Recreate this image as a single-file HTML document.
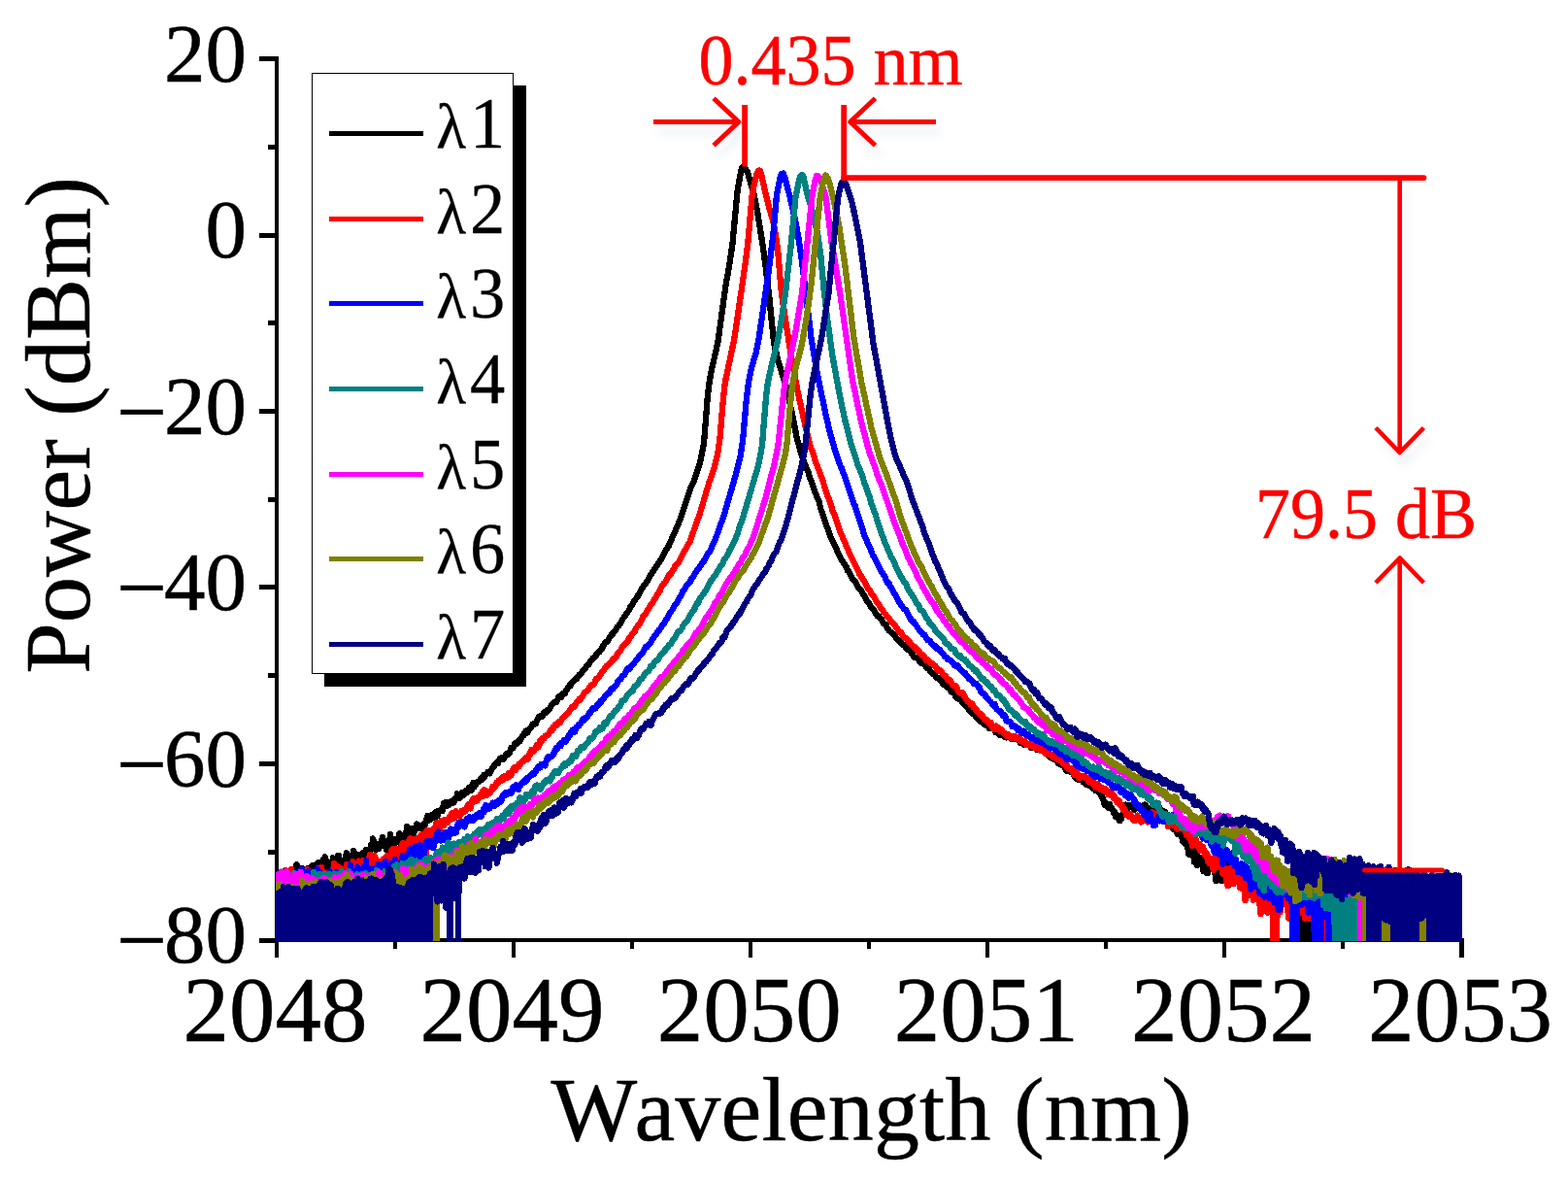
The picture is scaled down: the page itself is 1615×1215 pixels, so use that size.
<!DOCTYPE html>
<html lang="en"><head><meta charset="utf-8"><title>Optical spectra</title>
<style>
html,body{margin:0;padding:0;background:#fff;}
body{width:1615px;height:1215px;overflow:hidden;}
svg{display:block;}
text{font-family:"Liberation Serif",serif;stroke-width:0.5px;stroke-linejoin:round;font-kerning:none;}
.ax{fill:#000;}
.cv{fill:none;stroke-width:6.3;stroke-linejoin:round;stroke-linecap:butt;}
.an{fill:none;stroke:#f00;stroke-linecap:butt;stroke-linejoin:miter;stroke-miterlimit:10;}
.rt{fill:#f00;stroke:#f00;font-size:72px;}
.lg{font-size:72px;fill:#000;stroke:#000;stroke-width:0.3px;}
</style></head>
<body>
<svg width="1615" height="1215" viewBox="0 0 1615 1215">
<defs><clipPath id="plot"><rect x="284" y="50" width="1222" height="919"/></clipPath><filter id="sh" x="-30%" y="-30%" width="170%" height="170%" color-interpolation-filters="sRGB"><feGaussianBlur in="SourceAlpha" stdDeviation="4.5"/><feOffset dx="5" dy="11" result="b"/><feFlood flood-color="#4a6fa5" flood-opacity="0.11"/><feComposite in2="b" operator="in"/></filter></defs>
<rect width="1615" height="1215" fill="#fff"/>
<g class="ax">
<rect x="283" y="58" width="4" height="912"/>
<rect x="283" y="966" width="1225" height="4"/>
<rect x="267" y="58" width="18" height="5"/><rect x="276" y="149" width="9" height="5"/><rect x="267" y="240" width="18" height="5"/><rect x="276" y="330" width="9" height="5"/><rect x="267" y="421" width="18" height="5"/><rect x="276" y="512" width="9" height="5"/><rect x="267" y="602" width="18" height="5"/><rect x="276" y="693" width="9" height="5"/><rect x="267" y="784" width="18" height="5"/><rect x="276" y="875" width="9" height="5"/><rect x="267" y="966" width="18" height="5"/>
<rect x="283" y="966" width="4" height="20"/><rect x="405" y="966" width="4" height="11"/><rect x="527" y="966" width="4" height="20"/><rect x="649" y="966" width="4" height="11"/><rect x="771" y="966" width="4" height="20"/><rect x="893" y="966" width="4" height="11"/><rect x="1015" y="966" width="4" height="20"/><rect x="1137" y="966" width="4" height="11"/><rect x="1259" y="966" width="4" height="20"/><rect x="1381" y="966" width="4" height="11"/><rect x="1503" y="966" width="5" height="20"/>
</g>
<g font-size="85" text-anchor="end" fill="#000" stroke="#000">
<text x="254" y="83.5">20</text><text x="254" y="265">0</text><text><tspan x="171.8" y="454.7" font-size="92.4">−</tspan><tspan x="254" y="446.5">20</tspan></text><text><tspan x="171.8" y="636.2" font-size="92.4">−</tspan><tspan x="254" y="628">40</tspan></text><text><tspan x="171.8" y="817.7" font-size="92.4">−</tspan><tspan x="254" y="809.5">60</tspan></text><text><tspan x="171.8" y="999.2" font-size="92.4">−</tspan><tspan x="254" y="991">80</tspan></text>
</g>
<g font-size="95" text-anchor="middle" fill="#000" stroke="#000">
<text x="283.5" y="1072">2048</text><text x="527.6" y="1072">2049</text><text x="771.7" y="1072">2050</text><text x="1015.8" y="1072">2051</text><text x="1259.9" y="1072">2052</text><text x="1504" y="1072">2053</text>
</g>
<text x="567.5" y="1173.8" dx="0 -3" font-size="94" fill="#000" stroke="#000" letter-spacing="0.2">Wavelength (nm)</text>
<text transform="translate(92,693.8) rotate(-90)" font-size="94.5" fill="#000" stroke="#000">Power (dBm)</text>
<g clip-path="url(#plot)" shape-rendering="crispEdges">
<path class="cv" stroke="#000000" d="M285 909.4l1-11.3l1 17.4l0.5-5.2l1 5.9l0.5-5.4l0.5 74.2l0.5-70.8l0.5-15.5l1 3.6l0.5 4.5l0.5-5.7l0.5 7.4l0.5-11.6l0.5 8.6l0.5-1.8l0.5 10.7l0.5 0.4l1-14.2l0.5 8l1.5-12l0.5 4.7l0.5-5.8l0.5 9.1l0.5-5.5l1 4.1l0.5-5.2l0.5 12.5l0.5-10.3l0.5 2.1l1-5.6l0.5 7.4l0.5-13.8l1 14.5l0.5-5.1l0.5 1.9l0.5 0.1l0.5 9.6l0.5-8.1l1.5-9.3l1 4.5l1 0.9l0.5 3l1-7l0.5 0.4l0.5 6.7l1-3.9l0.5-0.4l0.5 1.5l0.5-5.7l0.5 4.5l0.5-3.1l0.5 6.7l0.5 1l0.5-10.2l0.5 2.7l1.5-4.5l0.5 6.7l1-5.5l1 5.3l1-0.7l0.5 88.2l0.5-86.9l1-9.8l0.5 0.2l1 2.3l0.5 7.5l1-10.1l0.5 7.7l0.5-1.6l0.5 1.8l0.5-3.6l0.5 2.4l0.5-10.9l0.5-0.3l0.5 8.3l0.5-9.7l0.5 3.6l0.5-0.2l1.5 7.4l0.5 6.2l0.5-7.8l0.5 7.1l0.5-2.7l0.5 2.5l1.5-11.2l1 4l0.5-7.8l0.5 10.6l0.5 0.6l1-6.8l0.5 1.4l0.5 95.8l0.5-92.5l0.5-7.9l0.5 2.9l0.5-6.1l0.5 4.6l0.5-5.3l1 7.1l0.5-2.8l0.5 3.2l0.5-0.6l0.5 8.1l0.5-7.2l0.5 8.1l0.5-1.7l0.5-7.8l0.5 97.9l0.5-96.7l1-7.2l1-2.8l1 10.6l1-2.5l1 10.1l1.5-12l0.5 4.7l0.5-7.6l0.5-1.8l0.5 105.2l0.5-109l0.5 0.4l0.5 9.3l0.5 1.9l0.5-0.8l0.5 1.3l0.5 4.2l0.5 0.5l0.5-6l0.5 3.2l0.5-10l0.5 4.7l0.5-0.3l0.5 6l0.5-10.1l1 0.8l1 3.1l0.5-5.8l0.5 4.4l1 2.9l0.5-4.4l1.5-6.3l0.5 1.8l0.5-1.6l0.5 3.9l0.5 0.6l0.5-0.4l0.5-3.6l0.5 2l1-4.6l0.5 0.4l0.5-4.5l0.5-0.3l0.5 5l0.5-10.2l0.5 4.8l0.5-2.3l0.5 0.5l0.5 7.5l0.5-2.8l0.5 4.2l0.5-3.5l0.5 2.5l1-4.3l1 4l0.5-3.9l0.5-0.9l0.5 0.7l1-2.5l0.5-3l0.5 6.2l0.5-8.8l1 5.5l1-1.4l2 9.1l0.5-3l0.5 2.8l2-7.3l1-8.5l0.5 3.1l0.5 122.8l0.5-118.2l0.5-0.7l0.5 1.6l0.5-2.5l0.5-0.3l1 4.3l0.5-2.9l0.5 1.8l0.5-4.3l0.5 2.3l0.5-2.8l0.5 3.6l1.5-4l0.5-4.7l0.5 3.9l0.5-0.2l0.5 3.2l0.5-4.7l0.5 124.6l0.5-123.3l2 7.4l0.5-7l0.5 1.5l0.5-1.2l1-11.5l1 4.7l1-0.8l1 4.7l1-6.7l1.5 7.5l1-3.7l0.5 1.7l0.5-3.5l0.5 1.8l1.5-5.5l0.5 1.2l0.5-3.9l1 2.6l0.5 0.3l0.5-1l0.5 2.6l0.5-1.7l1-0.6l1.5 2.6l0.5-0.5l1-4.1l0.5 2.7l2.5-8.4l0.5 2.7l0.5-5.7l0.5 2.8l0.5-1.8l1 3.6l0.5-2.1l0.5 0.9l1-3.9l1.5 2.9l1-4.2l0.5 4.1l0.5-3.3l0.5 1.4l0.5-4.6l1 5l0.5-0.4l1-5.3l0.5 0.8l0.5-1.2l0.5 0.6l1-0.8l0.5 0.8l0.5-1.7l0.5 1.8l1.5-8.3l0.5 1.1l0.5-1.5l0.5 0.2l0.5-0.8l1.5 3.8l0.5-1.8l0.5 1.1l0.5-2.6l0.5 0.1l0.5 1.9l1.5-2.1l0.5 0.8l0.5-2.6l0.5 2.4l1-2.2l0.5 1.6l1-4.2l0.5 1.2l0.5-2.2l0.5-0.3l0.5 0.6l0.5-4.3l0.5 2.3l0.5-1.7l0.5 0.2l1 3.7l2.5-5.5l1-0.1l0.5 2.6l1.5-4l1-0.7l0.5 2.3l0.5-0.2l1-3.4l0.5 0.7l0.5-2.6l0.5 2.1l0.5-0.4l0.5 0.9l0.5-0.9l0.5 1.5l1-6.3l0.5-0.2l0.5-1.4l1 4.3l0.5-1.5l0.5-0.6l0.5 0.2l1-3.2l2-0.2l1.5-2.2l0.5 0.8l0.5-2.2l0.5 0.8l0.5-0.1l0.5-2.4l0.5 0.1l0.5-0.6l0.5-1.5l0.5 2.7l2-4.2l0.5 0l0.5-0.9l0.5 1l1-1l1 1l0.5-3l1.5-1l1-2.2l0.5 0.4l1-1.5l0.5-1.8l0.5 0.3l1-2.1l0.5 0.5l0.5-0.9l0.5-0.1l0.5 1l0.5-2.3l1-0.7l0.5-1.7l0.5 0.3l0.5-1.1l0.5 0.6l0.5-0.2l0.5 0.8l0.5-0.3l0.5 0.4l2-4.1l1.5-2l1-0.3l0.5 1.6l1-1.3l2-5.8l0.5 1.5l1.5-1.2l1-1.8l0.5-2.4l0.5 0.3l0.5-1.2l1 0.5l1-0.2l1.5-3.3l1.5 0.6l2-4.6l1-0.4l0.5-1.9l0.5 0l0.5-1l0.5 0.4l0.5-2.7l0.5 1.3l0.5-0.2l1 0.7l1.5-3.2l0.5 0l1-1.7l0.5 0l1.5-3.8l0.5-0.3l0.5 0.9l0.5-0.1l0.5-1.1l0.5 0.4l1-0.6l1.5-4.2l1.5-2.5l0.5 0.9l0.5-1.3l0.5 0.5l1.5-1.4l0.5 1l1-2.7l0.5 0.2l0.5-2l0.5 0.9l1-0.1l0.5-1.5l0.5 0.3l0.5-1.7l1-0.6l0.5 0.4l1.5-1.8l2-3.8l1-0.5l0.5-1.5l2-0.7l1 0.3l2.5-5.6l1 0.5l0.5-0.4l1 0.4l1-3.4l1.5 0l1-1.3l0.5 1.1l0.5-2.2l2.5-4l1-0.7l0.5-1.5l0.5 0.8l0.5-2.1l0.5 0.5l1-2.5l1-1l0.5 0.2l2-2.8l0.5 0.2l0.5-0.7l0.5 0.7l2.5-4.3l2-1.1l1.5-2.8l2.5-1.9l2.5-4.3l1.5-0.3l2-4.5l0.5 0l2-2.6l2-0.9l2-3.9l1.5-1.3l0.5 0.3l2-2.1l3.5-6.9l1.5-1.7l0.5 0.5l0.5-1l1-0.5l1.5-3.2l3-4.1l0.5 0.2l0.5-1.4l2.5-2.6l2-3.4l1.5-1.3l5-8.4l5-6.8l2-4.5l1.5-1.2l2.5-5l2.5-2.7l4-7.8l2.5-3.2l1-2.3l1.5-1.2l1.5-3l1-0.7l3.5-6.8l11-16l2-5l4.5-6.8l12.5-28.7l10.5-31.6l3.5-7.7l6-18.5l4-19.2l3.5-45l2-17.7l2-11.4l7-31.1l8-58.1l3.5-19.2l3.5-24l5-53.3l3.5-20.3l1-3.6l1-1.8l0.5-0.1l1.5 0.4l1.5 3.4l1.5 2.1l6.5 23l4 20.1l5.5 34.6l2.5 18.8l3.5 29.2l5 49.3l4.5 19.7l8 25.2l5.5 24.5l5.5 27.8l3.5 13.8l3.5 11.1l5 11.9l1 4l2 4.5l3.5 10.8l4.5 10.8l2 8.1l10 28.4l4.5 8.9l5.5 12.5l6 9.1l1.5 4.4l0.5 0.2l0.5-0.5l3 6.7l2.5 3.7l1.5 1.1l3 5.8l1.5 1.3l3.5 5.4l3 5.8l3 3.9l1 2.3l4 4.7l3.5 6.1l1-0.3l1 0.7l1 1.9l1.5 1.4l2 3.8l2 1.4l0.5 1.2l0.5-0.2l0.5 1.8l2.5 3.6l5.5 4.8l2.5 3.8l1 0.2l2 3.1l1.5 0.5l1 1.8l0.5-0.5l1 0.8l0.5-0.2l2.5 4.5l0.5-0.3l1.5 1l0.5-0.6l2 3.9l1 0.5l2 3.8l2.5 0.3l2 2l0.5 1.3l0.5-0.5l0.5 1.8l1 0.9l0.5-0.7l0.5 0.9l3 1.5l2 3.8l0.5-0.5l1.5 0.1l2 4.4l1.5 0.5l1 1.3l1 0.4l0.5-0.4l2 4.1l1-0.3l1 0.8l0.5-0.3l2.5 3.9l0.5-0.9l0.5 0.6l1 2.9l0.5-1.1l0.5 0.9l0.5-0.4l0.5 1.3l2 2.2l2.5 1.7l1 2.5l1-0.3l1.5 1.9l1.5 0.9l1.5 3.4l1 0.9l0.5-0.9l1 1.4l0.5 0l1 1.3l1 0.4l0.5 1l0.5 0l0.5 1.1l1 0l0.5 1.8l1 1.3l1 1l0.5-0.7l1.5 2.1l0.5 0.4l0.5-0.2l0.5 2.2l0.5-0.3l1 2.5l0.5 0l1.5 1.9l0.5-0.7l1.5 0.3l1.5 3.4l2 2.1l0.5-0.7l1.5 3.3l0.5-1l0.5 0.4l1-0.6l0.5 0.3l2 4.1l0.5-0.1l0.5 0.8l0.5-1.6l0.5 1.8l0.5-0.4l0.5 1.2l1-1.2l1.5 3.5l1-1.1l0.5 0l3.5 2.6l0.5-0.8l1 3.8l0.5-2.1l1-1l1 1.9l0.5 2.8l1.5 1.3l1-2l1.5 1.5l0.5-0.6l0.5 0.9l0.5-1.1l0.5 2.8l0.5-1.4l1.5 2.2l0.5-1.2l2.5 1.1l1-0.1l1.5 1.9l1-1.1l1 1.1l1-0.9l1.5-0.1l0.5 0.9l0.5-0.8l0.5 0.1l1.5 2.4l0.5-1.2l1 3.6l0.5-1.2l0.5 1.3l0.5-0.5l0.5 0.7l0.5-0.9l0.5 2l1 0.7l2-2l1.5 1.2l1.5-0.1l2 3.9l2-2.5l0.5 0.8l0.5 0l0.5 1.5l0.5-0.9l2.5 3.1l1-0.6l0.5-1.2l0.5 0l0.5 1.5l0.5-1.1l0.5 0.1l1 0.7l1 1.7l0.5-1.2l1 1l0.5 1.9l0.5-0.4l0.5 0.9l1.5-1.5l0.5 1.2l0.5-0.9l1 4.7l0.5 0.3l0.5-0.9l0.5 1.5l1 0.6l1.5-2.8l0.5 2.5l1 1.8l0.5 0.3l1-0.3l0.5 0.5l0.5-1.4l0.5 0.7l0.5 3.2l1 1.3l0.5 0.3l0.5-0.6l1 0.4l2 1.9l1-1.4l1 2l0.5 2.5l1.5 2.6l0.5-0.1l1.5-2.7l1.5 3.3l0.5-1l0.5 1.3l0.5-0.6l0.5 1.1l1.5 1.5l0.5-0.2l0.5 2.4l0.5-0.7l0.5 2l1 1.2l0.5-1l0.5 0l0.5 1.9l0.5-1.7l0.5 1.9l0.5-2l0.5 0.7l0.5-0.6l0.5 2l0.5-0.1l0.5 1l0.5-1.5l1 2.8l1-1.5l0.5 0.5l1 3.4l0.5-0.1l0.5 0.9l2-2.6l0.5 0.2l0.5 3.5l0.5-0.8l0.5 1.1l0.5 0.2l1-1.4l0.5 2.2l0.5-0.1l0.5 1.3l0.5-1.4l0.5 0.6l0.5-0.3l1 3.6l2.5-2l0.5 3.2l0.5-0.9l0.5 1.7l1 0.8l1 2.8l0.5 0l0.5 2.8l0.5-1.1l1 5.1l1 2.4l0.5-2l1 0.1l0.5 2l1.5 2.7l0.5-2.3l0.5 0.3l0.5-1.9l0.5 3.5l0.5-0.9l2 3.4l1 3l0.5-1.1l0.5 1.4l0.5-0.6l0.5 4.6l0.5-3l0.5 1.6l1-0.5l0.5 0.5l1 4.5l0.5-3.9l0.5 4.7l0.5-5.1l1 3l0.5-2.8l1-0.6l0.5-2.7l0.5 0.9l0.5-1.3l0.5-5.2l0.5-0.1l0.5-2.7l0.5 5.1l0.5 0.8l1.5-5.6l0.5 2.6l0.5-1.4l0.5 0.9l0.5-0.3l0.5-1.9l0.5 2.1l0.5-0.3l0.5 0.6l1-1.4l0.5 3l0.5-0.4l0.5 1.3l1-1.1l0.5-2.1l0.5-0.4l0.5 0.6l1-0.3l0.5 0.4l0.5-1.5l0.5 2.3l0.5-0.8l1 3.1l0.5-3.1l0.5 0.9l0.5-1.8l0.5 1.3l1-2l0.5 0.9l0.5-1.4l0.5 2.5l0.5 0.1l0.5-1.8l0.5 4.2l0.5-1.3l1 3.3l1.5-3.5l0.5 0.5l0.5 2.6l0.5-1.8l0.5 0.5l0.5-1.6l2 3.2l0.5 2.5l1-4.2l0.5 1.8l1-3.3l1 2.5l1-2.3l1-0.7l1 2.4l0.5-0.7l0.5 5.1l0.5-0.3l0.5-1.6l1 3l0.5-4.2l1.5 1l1 4.6l1 1.2l0.5-2.6l1 1l3 10.7l0.5-1.5l0.5 0.6l0.5 3.4l1 0.5l1-0.5l1-2.9l0.5 5.8l1 2.2l0.5-4l0.5-0.9l0.5 0.3l0.5 3.3l0.5-2.3l1.5 6.7l0.5-0.8l0.5 4.3l0.5-3.2l0.5 3.1l1.5 3.1l0.5 0.4l1.5-1.3l1 6.3l0.5-1.5l0.5 7.1l0.5-5.4l1 5.3l0.5-4.4l1 3.6l0.5-1.2l0.5-0.2l0.5 4.6l0.5-6.1l0.5 11.7l1-6.4l0.5 6.3l0.5-7.5l1 11l1-2.3l1-6.3l0.5 4.4l0.5-3.3l2 6.7l0.5-6.7l1 13.5l0.5-8.2l0.5 7.5l0.5-7.1l0.5 0.2l0.5 6.3l0.5-5.1l0.5 8.3l0.5-7l0.5 6.9l0.5-6.2l0.5 3.4l0.5-8l1 5.4l0.5-1l0.5 1.5l0.5-0.2l0.5-4l0.5 3.2l1-2.6l1 8.3l0.5-4.5l0.5 1.7l0.5 11.4l0.5-4.1l0.5 2l0.5-3l0.5 3.4l0.5-12.7l0.5 6.2l0.5-2.9l0.5 7.8l0.5 0.5l0.5-5.3l0.5 7.8l0.5-8l0.5 3.4l0.5-2.1l1 4.6l0.5-7.9l0.5-1.4l1.5 7.7l1-13.1l1 12l0.5-0.4l0.5 3.1l0.5-2.2l0.5 8.1l0.5-3.3l0.5 2l0.5-13.5l0.5 3.2l0.5-1.5l0.5 7.5l0.5-11.9l1 15.6l0.5-10.1l0.5 7.9l1.5-10.3l0.5 11.8l0.5-10.8l0.5 1.6l0.5-3.9l0.5 9.7l1-9.3l0.5 0.4l0.5 8.7l0.5-4.6l0.5 4.3l0.5-6.4l0.5-1.1l0.5 1.3l1 10.9l0.5-6.3l0.5 16.1l0.5-15.6l1 8.2l0.5 1.4l0.5-3.8l0.5 6.5l1.5-13.5l0.5 18.6l0.5-17.6l0.5 9.5l0.5-5.9l0.5 0.4l0.5 6.9l1-1.6l1-4.6l0.5 3.7l1-7.7l0.5 7.2l0.5-6.1l0.5-1.2l0.5 3.9l1-2.4l1 14.1l1.5-11.8l0.5 21l0.5-2.6l0.5-14.3l0.5 3.3l0.5 15.2l0.5-17.4l0.5-0.2l0.5 0.4l0.5-3.3l1 17.7l0.5-17.1l0.5 5.7l0.5-1.1l1 18.8l1-22.3l0.5-0.8l0.5 6.1l0.5 14l0.5-11.6l0.5-1l0.5 6.3l0.5-14.8l0.5 7.3l0.5-4.6l1 14.6l0.5-13l0.5-0.6l0.5 5.3l1-3.3l0.5 10.8l1-10.7l0.5 8.3l1-7l0.5 12.9l0.5-9.1l1 4.1l1.5-9.4l0.5 13.9l0.5-8.1l0.5-2l0.5 1.4l1 13.5l1 5.6l0.5-17.4l0.5-1.1l2 21.1l1-21.9l0.5-0.3l0.5 3.8l0.5-4.2l0.5 27l1-15.7l0.5 11.4l1-17l0.5 6.7l0.5 8.9l0.5 44.6l0.5-51.8l0.5 4.9l0.5 46.9l0.5 0l1-61.5l0.5 61.5l0.5-59.5l0.5-3.5l0.5 63l0.5-51.8l0.5 51.8l0.5-53.3l0.5 53.3l0.5 0l0.5-59.7l0.5 59.7l0.5 0l0.5-61.3l0.5 61.3l0.5-40.3l0.5 40.3l0.5-55.1l0.5 55.1l1-52l0.5 52l1.5 0l0.5-49.8l1-3.1l0.5 1.2l0.5 16l0.5 35.7l1-58.9l0.5 58.9l0.5-42.5l0.5 42.5l0.5-62.4l0.5 0.6l0.5 19.7l0.5 42.1l0.5 0l0.5-52.6l0.5 11.6l1-21.3l1 62.3l0.5-54.4l0.5 54.4l0.5-59.1l0.5 12.6l0.5-3.8l0.5 50.3l0.5-57.3l0.5 57.3l0.5-63.3l0.5 21l0.5-20.8l0.5 63.1l0.5-63.2l1 63.2l0.5-62.8l0.5 3.6l0.5 59.2l0.5-52.1l0.5 52.1l1-47.4l0.5 47.4l0.5-33.8l0.5 33.8l0.5-56.5l0.5 2.7l0.5 15.5l0.5 38.3l1.5 0l0.5-53.8l0.5 53.8l0.5-53.7l0.5 8.5l0.5-14l0.5 5.5l0.5 53.7l0.5-49l0.5-2.3l0.5 51.3l0.5-58.3l0.5 19.6l0.5-19.1l0.5 57.8l0.5-58.9l0.5-4.2l0.5 5.7l0.5 57.4l1.5 0l0.5-45.7l0.5 45.7l0.5-53.1l0.5 0.5l0.5-3.7l0.5 56.3l0.5-49.9l0.5 1.2l0.5 8.5l0.5-19.8l0.5 60l0.5 0l0.5-51.9l0.5 3.7l0.5-21.5l0.5 14l0.5-7.2l0.5 24.8l0.5-1.1l0.5-20.8l0.5 60l0.5-60.8l0.5 60.8l0.5-61.9l0.5 61.9l0.5-57.5l0.5 57.5l0.5-55.8l0.5 55.8l1 0l0.5-60.3l0.5 15l0.5-10.9l0.5 3.3l1 52.9l0.5-61.7l0.5 61.7l0.5-55.4l0.5-1.6l0.5 16.4l1-17l0.5 2l0.5 0.2l0.5 55.4l0.5-53.3l0.5-1.4l0.5 54.7l0.5 0l0.5-61.1l0.5 2.3l0.5-4.2l0.5 63l0.5-56.9l0.5 56.9l0.5-53.1l0.5 53.1l1.5 0l1-60.7l1 18.5l0.5-4.6l0.5 5.7l0.5 41.1l0.5 0l0.5-51.8l1 16l1-28l0.5 20.6l0.5-20.2l1 4.7l0.5 58.7l0.5 0l0.5-39.5l1-10.7l0.5 50.2l1 0l0.5-38.6l0.5 38.6l0.5-36.5l0.5-4.6l0.5 41.1l2 0l0.5-44.6l0.5 44.6l1-59.3l0.5 2l0.5 57.3l0.5-58.8l1-5.2l0.5 64l0.5-56.6l1 1.8l0.5 54.8l0.5 0l0.5-50.8l0.5 3.1l1-14.5l0.5 7.7l0.5-7.8l0.5 62.3l0.5 0l0.5-56.2l0.5 3.1l0.5 15.5l0.5-2.6l0.5 40.2l0.5 0l0.5-52.6l0.5 52.6l0.5-53l0.5 53l0.5-57.7l0.5 10.7l0.5 47l0.5-52.8l0.5 9.7l0.5-4.1l0.5 47.2l0.5-55.6l0.5-5.9l0.5 4.8l0.5 56.7l0.5-64.9l1 27.1l0.5 37.8l0.5-39.9l0.5 39.9l0.5 0l1-58.8l0.5 9.6l0.5-10.8l0.5 6.7l0.5 53.3l0.5-37.3l0.5 37.3l0.5-47.2l0.5-8.9l0.5 56.1l0.5 0l0.5-55.7l0.5 55.7l0.5 0l0.5-56l0.5-4.8l0.5 3.4l0.5 57.4l0.5-50.6l0.5 50.6l0.5-55.1l0.5 55.1l0.5-59l0.5 0.9l0.5 6.5l0.5 51.6l0.5 0l0.5-54.1l0.5-2.9l0.5 57l0.5-47.6l1-9.4l0.5 13.4l0.5-19.2l0.5-1.7l0.5 64.5l0.5-61.5l0.5 0.6l0.5 18.7l0.5-20.9l0.5 63.1l1.5 0l0.5-50l0.5 6.7l0.5-17.4l0.5 18.2l0.5-14.1l0.5-1.2l0.5 57.8l0.5-58.5l0.5 3.2l0.5 55.3l0.5-63.8l0.5-1.3l0.5 65.1l0.5-55.7l0.5 55.7l0.5-57.5l0.5 0.2l0.5 57.3l0.5 0l0.5-55.6l0.5 11.5l0.5-17.9l0.5 7.8l0.5 1.4l0.5-9.7l0.5 62.5l0.5-54.4l1 54.4l1-59.6l1 59.6l1 0l0.5-48.6l0.5-8.6l0.5 8.4l0.5 1.5"/>
<path class="cv" stroke="#ff0000" d="M285 923.3l0.5-14.1l0.5 12.1l1-12.9l0.5 8l0.5-1.7l0.5-9.5l0.5 13.1l0.5-12l0.5 78.7l0.5-77.1l0.5-5.3l0.5-3l0.5 9.1l0.5-7.4l1-2.6l0.5 4.1l0.5-6.8l0.5 6.1l0.5-2l2 13.6l1-8.1l0.5 6.5l1-17.1l0.5 9l0.5 81l0.5-71.5l0.5-6.2l1-3.2l0.5 10.1l1-10.6l0.5 0.4l0.5-0.6l0.5 6.2l0.5-5l0.5 3.1l0.5-6.5l0.5-1l0.5 4.9l0.5-5.9l0.5 11.3l1 8.6l0.5-11.3l0.5 3.6l0.5-8.8l1 10.7l0.5-11l0.5 7.8l0.5-10l0.5 5.2l0.5 79.7l0.5-86.3l0.5-3.7l0.5 12.9l1-3.9l0.5 2.6l0.5-4.4l0.5 7.9l0.5 0.6l0.5 4.1l0.5-9.6l0.5 3.3l0.5-2.1l0.5 4.4l1 1.9l0.5-8.5l0.5 3.7l1-7.6l0.5 6l0.5-8.8l0.5 5.3l0.5-1.1l0.5-7.3l0.5 13.2l0.5-9.6l1 3l1-7.9l0.5 6.9l0.5-2.5l0.5 2.5l0.5-1.9l0.5 0l0.5 12.5l1-8.5l0.5 6.4l1-8.9l0.5 9.1l1-9.1l0.5-1.3l0.5 1.2l0.5-0.9l0.5 12.4l0.5-10.1l0.5 1.8l1-3l0.5-0.1l0.5-4.3l0.5 4.5l0.5-11l0.5 1.5l0.5 8.4l0.5-4.2l0.5-0.6l0.5 5.4l0.5-7.2l0.5 5l0.5-5.3l0.5 10.9l0.5-8.4l0.5 1.8l0.5 12.1l0.5-11.2l0.5 1.1l0.5-4l0.5 0.9l0.5 12l0.5 78l0.5-79.2l0.5-7.2l0.5 0.8l0.5-4.7l0.5 7.6l1.5-12.4l0.5 0.8l1 9.2l0.5-7.8l0.5 8.7l0.5-6.3l0.5-0.7l0.5 91.2l0.5-93.7l1 8.7l1-12.9l0.5 6.5l0.5 3.1l0.5 0.6l0.5-6.7l0.5-1.5l0.5 1.8l0.5 0.2l0.5 8.1l0.5-6.9l0.5-0.6l1-5.2l1 10.2l0.5-5.8l0.5-0.7l0.5 2.1l2-6.2l0.5 2l0.5-1.4l0.5 7.4l0.5-4.8l0.5 11.2l1-11.7l0.5-1.1l0.5 0.4l0.5-2.4l0.5 1.1l1.5-6.7l0.5 13.1l0.5-8.8l0.5 5.7l0.5-1.7l0.5 3.8l0.5-1.1l0.5-5.6l0.5 0.6l0.5-5.3l0.5 104.2l0.5 0l0.5-97.5l0.5-3.3l0.5 6.9l0.5-3.5l0.5 0.9l0.5 7.2l0.5-1.4l0.5 0l0.5-2.4l0.5 1l0.5-4.9l1 8.9l0.5-5.6l0.5 0.5l0.5-7.2l1.5 14.4l0.5-10.7l1-5.4l0.5 3.9l0.5-5.3l1 9.3l1-5.1l0.5-0.3l0.5 4.8l0.5-10l0.5 104.8l0.5-109.3l0.5 1.1l0.5 5.6l0.5-7.2l0.5-1.1l1 9.7l0.5-2.6l0.5 0.6l0.5-5.4l1 7l0.5-9.2l0.5 4.6l0.5-4.1l0.5 110.3l0.5-107.9l0.5-1l0.5 1.4l0.5-0.1l1.5-7.5l0.5 3l0.5-4.8l0.5 116.9l0.5-110.8l1-3.7l0.5 5.7l0.5-7.2l1 9.3l0.5-6l1-1.4l1-6.5l1 3l0.5-4l0.5 5.5l0.5-2.4l0.5 1.8l0.5-3.7l0.5 0.9l0.5-1.8l0.5 0.8l0.5 4.5l0.5-3.7l0.5 119.7l0.5-120.2l0.5 3.6l0.5-0.4l1-5.5l0.5 5.6l0.5-0.5l0.5-2.9l1 0.5l0.5-5.2l0.5 1.2l0.5-1.9l1 2.4l0.5-1.3l0.5 0.6l0.5-0.4l1 3.3l0.5 121.1l0.5-124.7l0.5-5l0.5 0.1l0.5 2.2l0.5-2.5l0.5 1.1l0.5-1.2l1 7.4l0.5-3l1-0.9l0.5-3.4l0.5 0.4l0.5-2.1l1 0.2l1.5-2.9l0.5-2.8l0.5 0.9l0.5-1.9l0.5 1.4l1-0.2l0.5 4.5l0.5-2.7l0.5 4l1-4.8l0.5-0.3l0.5-4.1l0.5 4.3l0.5-2.3l0.5 0.3l0.5 2.9l1-6.1l1.5 1.4l0.5-0.7l1 2.5l1-3.7l0.5 1.3l1-4.2l0.5 1.3l0.5-1.6l0.5 2l0.5-4.7l0.5 6l0.5-0.9l0.5 0.5l0.5-0.4l0.5-5.8l0.5 2.8l1-4.3l0.5 4.7l0.5 0.4l0.5-2.2l1 0.1l1 2.3l0.5-2.8l0.5 0.7l0.5-1.3l0.5 1.1l0.5-3.5l0.5 0.7l1.5-0.8l0.5 0.8l0.5-1.5l0.5 1.7l1-1.3l2-5.7l0.5 1.1l0.5-1.3l0.5 3.6l0.5-0.8l0.5 1.1l2-8.4l0.5 0.2l0.5-1.8l0.5 2.1l1.5-0.8l0.5 0.6l0.5-1.1l0.5 1.5l0.5-2.6l0.5 0.3l0.5-1.5l0.5 1l0.5-1.4l0.5 0.3l0.5-1.8l0.5 1l0.5-1.9l0.5-0.8l0.5 0.2l0.5-2.3l0.5 4.5l1.5-6.5l2 5.9l1.5-4.1l1 0.1l1 1.7l2-3.1l1-3.7l0.5 1.6l1-1.4l0.5 0.8l0.5-0.4l1.5-5l0.5 1.6l0.5-2l0.5 0.9l0.5-2.6l0.5 2l1.5-2.9l0.5 1.4l1.5-3.8l1.5 2.3l1.5-3.6l1.5 2l0.5-0.9l0.5 0.7l1-4.9l2 0.6l0.5 2.2l1.5-5.8l1.5-2.3l0.5 0.6l0.5-0.4l0.5 2.2l1.5-3.8l0.5 1.1l1-0.5l1-3.4l0.5-0.3l0.5 0.9l0.5-1.5l1-0.6l1-1.6l0.5 0.6l1-2.1l0.5 0.1l1.5-1.6l1.5 1.8l2-6.2l0.5 1.5l1.5-5.3l2 0.5l0.5 1l1-3l0.5 0.3l0.5-0.9l1-3l0.5 2.6l0.5-0.8l0.5 0.7l1-2.3l1-4.9l0.5 1.3l0.5 0l1-1.5l0.5-2.1l0.5 0.9l0.5-1.4l0.5 0.9l1-2.7l1.5-0.8l1 0.3l2-3l0.5-1.6l1 0.4l0.5-1.1l0.5 0.3l1-3l1 0.3l1.5-3.6l0.5 1.5l0.5-1.3l1 0.2l1-2.5l1-0.8l1 0.9l0.5-0.5l2-4.3l2.5-1.5l1.5-2.4l1.5-0.6l1-2.2l0.5 0l0.5-1.8l0.5 0.3l1-2l0.5 0.4l0.5-1.6l0.5 0.5l0.5-1l0.5 0.9l0.5-0.3l2-3.8l2.5-3l0.5-1.3l1 1.1l4.5-7.4l2-1.8l0.5 0.5l0.5-1.5l1-0.7l2.5-3.9l0.5 0.5l1-1.2l1-0.1l1.5-1.9l0.5-2.3l0.5-0.1l0.5-1.7l0.5 0.6l0.5-1l1.5-0.6l4-6.9l0.5 0.1l0.5-1.2l1-0.7l2-3.8l0.5 0.3l0.5-0.8l0.5 0.5l1.5-2.2l0.5 0.1l0.5-0.6l3.5-4.9l0.5 0.9l1-1l1-2l0.5-0.2l0.5-1.9l0.5 0l1-2l1.5-1.3l3.5-5.9l3-2l1.5-2.8l0.5 0.2l1.5-3.7l1.5-1.4l3-4.4l0.5 0.5l1.5-4.2l2-2.6l0.5 0l0.5-1.7l0.5 0.1l1.5-2.4l2.5-5.9l1-1.3l1.5-0.7l5-9.4l1-1.3l0.5 0.2l2-4.1l1.5-1.7l2-4.4l0.5 0l2.5-4l2-4.5l1.5-2.4l0.5 0.3l2.5-3.8l2-4.4l0.5 0l1-1.5l1-0.5l0.5-1.5l2.5-3.5l1.5-3.6l2-1.1l2-2.7l5-10.2l6-10.5l10-27.8l10-33.4l5-14.2l4-16.9l2-14.6l3.5-41.1l2-16.8l8.5-40.1l2-11.6l10.5-72.3l2.5-20.6l4-46.2l2-10.7l3-12l1.5-3.5l1-0.5l1 0.9l1.5 5l5.5 24.2l6.5 23.4l1 5.4l3.5 21.5l3 36.7l2 17.3l8 51.4l7 39.1l9.5 43.2l4.5 16.8l2 4.8l3 10.1l6 15.6l7 21.4l1.5 3.3l3.5 11.7l2 3.9l5.5 16.6l11.5 26.7l6.5 12.3l2 5.1l0.5 0.6l0.5-0.2l0.5 1.8l2.5 3.4l4 7.9l2.5 2.8l1 2.6l3 3.1l3 6l2 1.7l1.5 3.6l2 2.1l2.5 4.4l1 0.7l1.5 2.5l1 0.1l1 1.2l2 3.7l2 1.3l2.5 2.9l2.5 4.3l2 1.9l0.5 1.2l0.5-0.9l0.5 0.5l3 5.6l1.5 0l1.5 1.1l1 1l1.5 2.8l0.5-0.2l2 2.8l0.5-0.2l1 1.7l1 0.2l1 0.9l0.5 1.5l0.5 0.3l0.5-0.4l1 1.7l1 0.6l0.5-0.4l0.5 1.7l2 2.4l0.5-0.4l0.5 1.3l1 0l2 2.8l1 2.4l0.5-1.1l0.5 0.5l0.5-0.6l2 2.2l0.5 1.5l1.5 0l3.5 3.7l0.5-0.6l1.5 3l0.5-0.2l1 1.7l2 0.9l0.5-0.7l2.5 4.4l2 1.8l0.5-0.5l2 3.5l0.5-0.3l0.5 1l1-0.4l1 1.8l0.5 0l2 4.1l1-0.3l0.5 0.8l0.5-0.1l0.5 1.3l0.5-1.2l3 6.2l2 0.7l0.5 0.8l1.5-1.1l1 3l0.5-0.1l3.5 6.3l2 0.8l1 2.1l1-0.1l0.5 0.4l0.5-0.6l1 3.1l0.5-0.4l1 2.2l1-0.3l0.5 2l1 0.1l0.5 2.1l0.5-0.3l1.5 2.2l1-0.2l0.5 1.3l0.5-0.4l1.5 1.3l1 3l0.5-0.6l0.5 1.5l0.5-0.8l1 0.2l1 2l0.5-0.6l1.5 2.6l0.5-0.6l0.5 0.3l0.5-0.7l1 4.1l0.5-0.1l1 2.7l0.5-0.6l0.5 0.4l2-2.6l1.5 3.4l1-2.1l0.5 1.8l0.5-0.4l0.5 0.3l0.5 2.2l0.5-0.7l0.5 0.8l0.5-1.4l1.5 3.4l1-0.3l1.5 2.8l1-0.6l0.5 1.4l0.5-1.9l0.5-0.2l2.5 2.9l0.5-0.8l1 1.9l0.5-1.2l0.5 1l1-0.7l0.5-1.1l1 1.5l0.5-0.4l0.5 0.3l0.5 1.1l1.5-1.1l0.5 1.4l1-0.6l0.5 2.5l1-0.6l0.5 1.5l1.5 0.2l0.5-1.2l1-0.2l1.5 4.3l0.5-1.8l1 1.3l1 0.1l0.5 1l0.5-0.5l0.5 0.5l0.5-1.3l0.5 0.3l0.5-0.4l1.5 3.1l1-0.6l0.5 1l0.5-1.2l1 2.3l0.5-1l0.5 0.9l1-1.5l1 2l0.5-0.7l1 2.4l0.5-0.8l0.5 0.9l0.5-2.3l0.5 0.6l0.5-0.3l2 4.2l0.5-0.5l0.5 0.2l0.5 1.3l1 0.3l1-0.9l0.5 1.3l0.5-0.2l1 0.7l0.5-0.4l1 1l0.5-0.4l0.5 2l0.5-0.9l0.5 0.9l1.5-2.2l0.5 1.8l1 0.7l1 2.4l0.5 0l0.5-1.6l0.5 0.8l0.5-0.2l0.5 1.4l1 0.6l0.5-0.8l1 1.8l0.5-1.2l0.5 3.2l1 0.9l1.5-0.2l1 2.4l0.5-1.2l1.5 3.5l0.5 0l0.5-0.8l1 0.8l0.5-0.5l1 0.5l1.5 4.7l0.5-0.7l0.5 2.3l1.5-5.7l1 0.8l0.5 3.5l1.5 4.3l1.5-0.9l0.5 0.5l0.5-1.1l1 0.3l0.5-0.6l1 0.5l0.5-0.5l1 0.5l1 1.9l1-0.6l0.5 0.4l1 3.9l0.5 0.3l1.5-2.6l0.5 1.1l1-0.1l0.5 2.6l1-1.6l0.5 1.6l0.5-0.1l0.5 0.7l1 3.9l0.5-1.2l0.5 0.9l0.5-2.1l0.5 1.2l0.5-2.4l0.5 1.9l0.5-0.3l0.5 1.6l0.5-0.4l1 2.9l1-0.1l0.5-1.8l1 3.4l0.5-1.8l1 1.2l0.5-1.5l1 2.7l0.5-0.5l0.5 0.7l0.5-0.4l0.5 3.1l0.5-0.6l1 1.1l0.5-3.1l0.5 1.1l1-1l1.5 3.6l0.5 2.7l1-2l2 3.9l0.5 2.7l1-0.9l1 1.3l0.5-2.4l0.5 4.3l1 1.3l1-0.8l0.5 2.9l1 1.9l0.5 0.1l0.5-1.1l1.5 3.2l0.5 3.1l1-1.1l1 2.2l0.5-1.4l0.5 0.2l0.5 1.3l0.5-2.6l0.5 3.3l0.5-1.5l0.5 1l0.5-0.2l1 4l0.5-3l0.5 3.7l0.5-1.2l1 0.6l0.5-1.6l0.5 1.1l0.5-0.8l0.5-3.7l1 4.5l0.5-2.2l0.5 1.7l0.5-1.4l1.5 4.3l1.5-5.3l0.5 3.7l1.5-1.9l0.5 1.5l0.5-0.5l0.5-2.7l1.5 5.3l1.5-5.6l1 4l0.5-2.9l0.5-1.6l0.5 0l1-4.3l0.5 3.2l1-1.8l0.5 1.9l1-1.7l0.5 0.3l1 5.7l0.5-3.2l1 1.4l0.5-3l0.5-0.4l1 3.9l0.5-2.5l1 5.2l0.5-2.1l0.5 1.7l1.5-1.7l0.5 0.7l0.5-0.8l1-0.1l0.5 2.4l0.5-0.3l1 6.3l0.5-3.1l0.5 1.6l0.5-1.1l0.5-3.8l1.5 3.4l1-1.7l0.5 1.2l0.5-2.7l1 5.4l1.5-2.3l1.5 5.5l0.5-3.7l0.5 1.9l0.5-2.1l1 2l0.5-1.6l1 3l0.5-0.6l0.5 0.9l0.5-0.2l1-3.8l1.5 6.6l0.5-0.2l0.5 1.2l0.5 3.1l0.5-3.3l1 1.5l0.5-1.1l1 6.3l0.5-0.6l0.5 0.4l1 3.4l0.5 0.3l0.5 3.9l0.5-0.5l0.5-6.6l0.5 1.4l0.5-0.2l0.5-3.2l0.5 4.8l0.5-2.4l0.5 0.9l0.5 5.2l0.5-0.4l1 2.1l0.5-0.4l0.5 1.2l0.5-4.1l1 7.2l0.5-1.4l0.5 0l0.5 1.2l0.5-0.3l0.5-3.8l2 8.7l0.5-2.5l0.5-0.2l1 5.5l0.5-3.6l0.5 7.6l0.5-2l1 4l0.5-3.8l0.5 1.6l0.5-3.1l0.5 4.9l1-0.7l0.5 6.1l0.5-2.9l0.5 4.9l0.5-8.7l0.5 6.6l1-12l0.5 6.3l0.5-7.1l0.5-1.3l1 2.9l1 10.2l0.5-4.9l1 2.2l0.5-2.5l0.5-0.2l1 3.1l0.5 8.8l0.5-7.2l0.5 1.9l0.5-1.3l0.5 6.9l0.5-4.3l0.5 0.9l0.5 10.5l0.5 1.8l0.5-8.1l0.5 11.4l1-12.3l0.5 4.6l1-10.7l0.5 8.8l0.5-6.5l0.5 8.3l0.5-5.1l1.5 11.1l0.5-10.6l1 1.3l0.5 2.3l0.5-7.5l0.5 10.4l1.5-8.7l0.5 7.9l0.5-3.7l0.5-0.6l0.5 12.9l0.5-6.2l0.5-1l0.5 0.6l0.5 7.9l0.5-2.9l2-5.1l1 19.7l0.5-20.2l0.5 1.7l0.5-1.9l0.5 7.8l0.5-2.1l1 8.7l0.5-7.1l1 8l0.5-9.8l0.5 6.2l0.5-13.4l0.5 13.6l0.5-9.9l1 18l1-13.2l0.5-0.1l1 9.5l0.5-1.8l0.5 1l0.5-9.8l0.5 13.5l0.5-16.1l0.5 3.5l0.5 17.3l0.5-13.3l0.5 4.1l0.5 19.9l1-19.9l0.5-3.9l0.5 9.7l1-17.3l0.5 2.7l0.5 20.7l0.5-1.8l0.5 1.3l0.5-1.2l0.5-7l0.5 0.1l0.5 15.3l1-22l1 4.8l0.5 14.9l0.5-15.5l0.5 9.3l1.5-13l0.5 66.7l4 0l0.5-54.4l1-11.7l0.5 4.8l0.5 0.5l0.5-6.4l0.5 21.7l0.5-17.3l1 9.1l0.5 0.3l0.5-5l0.5 1.9l0.5-8.3l0.5 0.9l0.5-7.4l0.5 13.7l0.5-6.5l0.5 10.3l1-11.1l0.5-0.4l0.5 19.3l0.5-2.6l0.5 9.3l0.5-10.6l0.5 4.2l1-20.2l0.5 6.8l0.5-13.1l0.5 12.2l0.5-7.9l0.5 17.6l1-4l0.5 11.1l0.5-17.5l0.5 19.5l0.5-19.5l0.5 7.4l0.5-10.5l1 17.6l0.5-0.2l0.5-14.9l1 4.7l0.5 9.7l0.5-14.5l0.5 2.1l0.5 14.6l0.5-17.2l0.5 11.1l0.5 3.7l0.5-0.3l0.5-19.8l0.5 27.7l0.5-28l1 16.2l0.5-11.9l0.5-2.6l0.5 22.3l0.5-21.1l1 14.5l0.5-4.8l0.5 15.9l1-10.3l0.5-15.5l0.5-4.3l0.5 13l0.5-13.5l0.5 25.2l0.5-0.2l0.5-16.7l0.5 0.7l0.5 60.6l0.5-63.8l1 26.7l0.5-24l0.5 15.7l0.5-19.5l1 64.9l0.5-61.4l0.5-6.4l0.5 3.4l0.5 64.4l1 0l0.5-66l0.5 66l0.5-55.2l0.5-10.4l0.5 7.3l0.5 58.3l0.5-61.3l0.5 8.9l0.5 52.4l0.5-65.1l0.5 65.1l0.5 0l0.5-48l0.5 48l0.5-47.6l0.5 47.6l0.5-64.2l0.5-0.6l1.5 22l1-19.5l0.5 62.3l0.5 0l0.5-52.5l0.5 52.5l0.5-53l0.5 53l0.5-61.2l1 61.2l0.5-61.1l0.5 61.1l0.5-61.1l0.5 2.7l0.5-4.7l0.5 63.1l0.5-62.3l0.5 62.3l0.5 0l0.5-63.1l0.5 1l0.5 62.1l1 0l0.5-57l0.5 2l0.5-5.9l0.5 60.9l0.5-63.4l0.5 63.4l0.5-60.3l0.5 60.3l0.5-60.8l0.5-7.9l0.5 68.7l1 0l0.5-58.1l0.5 58.1l0.5-68.5l0.5 3.3l0.5 65.2l1.5 0l0.5-56.7l0.5 0.7l0.5 56l0.5-47.7l0.5 47.7l0.5 0l1-60.5l0.5 60.5l0.5-49.1l0.5 49.1l0.5 0l0.5-59.8l0.5 20.9l0.5-17.3l0.5 56.2l0.5 0l0.5-61.4l0.5 61.4l1.5 0l0.5-51.3l0.5-11.6l0.5 19.3l0.5-12.9l1 56.5l0.5-47l0.5-8.3l0.5 9.9l0.5 45.4l0.5-55.9l0.5 55.9l0.5-60l0.5 60l0.5-51.7l0.5-6.8l0.5 58.5l0.5-43.1l0.5-8.7l0.5 9.2l0.5-0.7l0.5 43.3l0.5-43.9l0.5 43.9l0.5-67.2l0.5 11.9l0.5 55.3l0.5-48l0.5-7l0.5 55l0.5-47.7l0.5-14.5l0.5 9.8l0.5-11.8l0.5 2l0.5 62.2l0.5 0l0.5-46.4l0.5 46.4l0.5 0l0.5-44.4l0.5 44.4l0.5-63.5l0.5 9.5l0.5-1.1l0.5 12.3l0.5-0.4l0.5-20.1l1 63.3l0.5-66.9l0.5 66.9l1.5 0l0.5-40.9l0.5 0.1l0.5 40.8l0.5-64.8l1 64.8l0.5-62.6l0.5 2.9l0.5 59.7l0.5-61.8l0.5 5.6l0.5 56.2l0.5 0l0.5-59.4l0.5 59.4l0.5-52.3l0.5-13l0.5 65.3l0.5-66.4l0.5 66.4l0.5-56l0.5 56l0.5-63.9l0.5 63.9l0.5-47.1l0.5-3.9l0.5 6.8l0.5-14.5l1 58.7l0.5 0l0.5-47.2l1-23.2l0.5 70.4l0.5-65.5l2 24l0.5-18.6l0.5 7l1 53.1l0.5-56.6l0.5 56.6l0.5 0l0.5-57.1l0.5 57.1l0.5-54.1l1 13.9l0.5 40.2l1 0l0.5-40.2l0.5 6.7l0.5 33.5l0.5-61.5l0.5 61.5l1-61.7l0.5 61.7l0.5 0l0.5-60.9l0.5 60.9l0.5-55.9l0.5 55.9l0.5-61.9l0.5 61.9l0.5-50.5l0.5 50.5l0.5-67l0.5 67l0.5-65l0.5 65l1-69.6l0.5 69.6l1 0l0.5-71.5l0.5 71.5l0.5-67.7l0.5 14l0.5-1.1l0.5 10.5l1-21.4l0.5 25.3l0.5-25.6l0.5 66l0.5-53.1l0.5-11l0.5 0.6l0.5-1.4l0.5 24.3l0.5-24.6l0.5 19.5l0.5-3l0.5 1l0.5 47.7l1 0l0.5-42.4l0.5 42.4l1 0l0.5-45.4l0.5 7.1l0.5-17.1l0.5 14.3l0.5-20.6l0.5-2.1l0.5 63.8l0.5 0l0.5-67.7l0.5 67.7l0.5-65.6l1 19l0.5 46.6l0.5-64.3l0.5 64.3l0.5-55l0.5 55l0.5-66.7l1 66.7l0.5-49l0.5 49l0.5 0l0.5-70l1 23.4l0.5-18.6l1 5l0.5-2.1l0.5 62.3l0.5 0l0.5-62.8l0.5-2.5"/>
<path class="cv" stroke="#0000ff" d="M285 900l1 12.5l0.5-9.7l0.5 82.2l0.5-81l0.5 12.3l0.5-6.9l0.5 8.6l0.5-18.6l0.5 2.3l0.5 0.5l0.5 4l0.5-0.9l0.5 11.3l0.5 0.6l0.5-0.7l0.5-12.4l0.5 1.6l1 15l0.5 64.3l0.5-70l0.5-9.5l0.5 6.8l1-9.1l1.5 6.9l0.5-4.9l0.5 9.4l0.5 1.7l0.5-14.3l0.5-2.3l0.5 1.4l0.5 8.8l0.5-10.7l1.5 11l0.5-10.4l0.5-0.5l1 3.5l0.5-1.1l1 13.5l0.5-12.8l0.5-0.3l0.5 3.1l0.5-10.4l1.5 17.9l0.5-9.2l0.5 10.8l0.5-11.2l0.5 10.7l0.5-7.9l0.5 6.4l0.5-5.8l1 9.3l1-18.6l0.5 7.1l0.5 80.7l0.5-84.4l0.5 11.5l0.5-9.2l0.5-1.8l1 15.7l0.5 68.2l0.5-76.3l0.5 1l0.5-6.8l1-0.2l1 7l1-15l1 15.9l0.5 74.4l0.5-74.1l0.5-13.4l0.5 8.9l0.5-3.4l0.5 3.5l0.5-3.6l0.5 1.8l0.5-2.9l0.5 8.2l0.5-1.1l0.5 1.9l0.5-9.8l1 3.9l0.5-1.4l1 6.6l0.5-7.2l0.5 2.5l0.5-4.2l0.5 83.8l0.5-79.6l1-7.9l1 13.8l0.5-10.3l0.5 84l0.5-77.9l0.5-1.4l0.5 2.3l0.5 77l0.5-76.2l0.5 76.2l0.5-76.2l0.5-10.6l0.5 4.9l1-1.5l1 10.3l0.5 0.3l0.5-5.5l0.5 7.7l0.5 0.9l1-6.3l0.5 4.4l0.5-9.6l0.5-0.3l0.5-5.5l0.5 7.2l0.5-7.3l1 3.2l0.5-3l0.5 11.6l0.5-9.6l0.5 4.9l1-3.7l1 4.4l1.5-15.1l1 10.8l0.5-4.9l1 13.5l0.5-10.8l0.5 6l0.5-6.4l1 9.3l0.5-6.6l1.5-9l0.5 13.2l0.5-5.2l0.5 0l0.5 4.5l1-6.7l1 9.8l0.5-10.7l0.5 5.5l0.5-8.6l0.5 1.8l1-3.5l0.5 8.7l0.5-10.5l0.5 1.6l0.5-6.1l1 13.1l0.5 85.6l0.5-86.5l0.5 9l1-7.9l0.5 1.9l0.5-0.8l0.5-3.7l1 1.6l0.5-4l1 7l0.5-6.3l0.5-0.8l0.5 0.6l0.5 3.2l0.5-3.8l0.5 90.5l0.5-88.9l0.5-1l0.5 1l0.5-6.1l0.5 12.7l0.5-9.1l0.5 5.3l1.5-6.7l0.5-0.7l0.5 2.9l0.5-1.1l1 2.1l0.5 4l1.5-12.6l2.5 16.1l0.5 0.7l0.5-9.3l0.5-1.5l0.5 7.2l0.5-7.2l1 6.9l0.5-10.7l0.5 1.1l0.5 5.7l0.5-2.5l0.5 0.2l0.5-0.7l1-8l1 10.1l0.5-5.6l1 10.4l0.5-5.2l0.5-1l0.5 4.2l1.5-9.5l0.5 3.6l0.5-0.6l1-9.7l0.5 8.7l1-8.6l0.5 0.4l0.5 7.7l0.5-8.1l0.5 4.7l0.5-0.5l0.5-4.9l0.5 3.9l0.5-5.4l0.5 5.9l0.5-6.9l0.5 3.2l0.5-7.1l0.5 2l0.5-1.9l0.5 4.6l0.5-4.2l0.5 1.4l0.5-2.4l1 9l0.5-4.3l0.5 0.8l1-8.6l1 2.8l0.5 111.3l0.5-107.4l1 6.4l1.5-13.6l1 1.9l0.5 6.4l0.5-1l0.5 2.5l1-9.2l0.5 114l0.5-113.7l0.5 1.1l0.5-0.3l0.5 0.9l0.5-5.7l0.5 3.2l0.5-4.5l1.5 5.9l1-5.4l0.5-0.3l0.5 1.4l0.5-1.2l1 1.9l0.5-1.6l0.5 6.5l0.5-7.3l0.5 5l1-6.1l0.5-1.4l0.5 2.3l1-6.8l1-2.5l1 6.3l1-1.6l0.5 4.3l0.5-2.1l0.5 2.2l0.5-1l0.5 0.7l1-5.5l0.5 3.6l0.5-3.8l0.5 1.2l0.5-3.9l1 1.7l0.5 4.9l0.5-0.4l0.5 2.1l0.5-0.8l0.5-4.5l0.5 0.9l1-4.1l0.5 1.6l0.5-4.8l1 4.3l0.5-2.2l2-1.2l0.5 3.7l1-1.3l0.5 0.3l1.5-8.7l0.5 0.5l0.5-1.8l0.5 2.5l0.5-0.1l0.5 1l1-3.5l0.5 2.8l0.5-3.3l0.5 3.1l0.5-2.1l0.5 3.4l0.5-1.1l0.5 1.7l1-5.6l0.5-0.6l0.5 0.5l0.5-2.9l1 2.7l0.5-0.7l0.5 0.4l1-4l0.5 2.5l1 0.5l1-2.5l0.5 3.3l1.5-3.5l0.5 1.8l1.5-4l0.5-0.1l0.5 2l0.5-0.6l0.5-2.4l0.5 0.8l1-1.8l0.5 2.3l0.5 0l0.5 1.4l1-4.5l0.5 0l1-3.3l0.5 3.4l1-3.4l0.5-0.2l0.5-4l2 4.1l1.5-2.5l0.5 2l1.5-3.2l0.5-0.3l0.5 0.6l0.5-3.1l0.5 1.6l1.5 1.5l0.5-3.1l0.5 1.6l1-1.5l0.5 1.2l1.5-3.4l0.5-0.1l0.5 1.4l0.5-1.4l0.5-0.1l0.5 1.2l1.5-5.4l0.5-0.8l1-0.3l0.5-1.2l0.5 1l1-2.8l0.5 2.6l0.5-0.3l0.5-2.4l0.5 0.6l1-0.8l0.5 0.6l0.5-1.2l0.5 1.9l0.5-2.2l0.5 2.3l0.5-2.4l1-0.5l0.5-3.9l1 1.8l0.5-1.7l0.5 0.1l1.5-2.1l1.5 2.2l0.5 2.4l1-3.6l0.5 0.1l0.5-0.5l1-2.2l1-0.2l0.5-0.8l0.5 0.5l1-2.4l0.5 1.4l0.5-1.9l0.5-0.2l0.5 0.8l0.5-2.7l0.5 1.6l1.5-2.7l1 0l2-2.9l1 0.5l0.5-1.8l1.5 0.6l1-2.5l0.5 0.4l0.5-2.3l0.5-0.6l0.5 0.2l0.5-0.8l0.5-1.7l1.5 1.3l0.5-0.1l1-3.3l0.5 0.3l0.5-0.5l0.5 1.2l0.5-1l2 1.3l1.5-6.1l1.5-3.1l0.5-0.3l1 1.6l2.5-2.4l0.5 0.3l0.5-1.6l1-0.5l0.5-2.2l0.5 0.2l1-3.8l0.5 0.2l0.5-0.5l0.5 1.1l2-4.9l1 0.4l0.5 1.5l1-3.3l0.5 0.5l2-3.4l0.5 1.2l0.5-0.6l0.5 0.9l1-2l1.5-1l0.5-2.7l1 0l0.5-0.8l0.5-2.2l1.5-1.6l0.5-1.7l0.5 2.5l0.5-1.6l1 1.5l0.5-0.3l1.5-4.9l0.5 0.4l0.5-1.2l0.5-0.4l0.5 0.3l0.5-1.6l0.5 0.9l2-3l1.5-3.7l1 0.6l0.5-0.5l0.5 0.9l0.5-1.8l0.5 0.1l0.5-1.2l0.5-0.2l0.5 0.5l1.5-3.4l0.5 0.1l0.5-2.2l1 0.9l1-2.8l1-0.7l0.5-1.4l0.5-0.5l0.5 0.6l1.5-0.6l0.5 0.4l1.5-3.2l0.5-0.6l0.5 0.7l1-1.5l0.5 0.2l1-3.2l0.5 1.1l1-2.3l2.5-2.2l1.5-2.9l0.5 0.1l1.5-2l0.5 0.4l1-0.2l2-4.5l2 0.2l1.5-2.7l2-2l2-4.2l2.5-1l1.5-3.5l2-0.9l3.5-7.1l1 1.2l0.5-0.8l1 0.2l1-2.3l6.5-7.7l1.5-2.9l0.5 0.2l3-3.9l0.5 0.1l3-6.3l1.5 0.5l2-3.2l1.5-1.2l3.5-6.2l2-1.8l3-5l1-0.5l3-5.2l0.5 0.4l6-10.3l0.5-1.7l0.5-0.1l3.5-5.3l1-2.5l2-2.8l0.5 0l5-9l1-2.6l2-2.3l2-4.1l3-2.4l3-6l1-0.5l3.5-6.2l2.5-2.5l3-5.6l1-0.4l0.5-1.4l1-0.8l3.5-6.8l2-2.4l5.5-11.8l9-25l12-41l5-20.1l2.5-15.9l4-44.8l2-15.4l3-15.3l4.5-14.7l3.5-17.7l9.5-65.5l4.5-35.7l4-44.5l3.5-17.8l1.5-3.5l1.5-0.7l2 4.1l5 19.8l5.5 23.7l3 16.2l3.5 22.7l10 83.1l6 35.3l9.5 45.8l4 16.5l5.5 19.7l5.5 15.5l0.5 0.4l3.5 9.1l9.5 28.3l1 1.7l1.5 5.6l6 17.1l2 7.3l5.5 12.9l0.5 0.1l3 8.4l2 2.9l1 2.6l2 3.2l0.5 2l3.5 6.3l3.5 5.3l1.5 3.8l1.5 2.5l0.5-0.3l1 1.3l0.5 1.7l2.5 3.4l2 4.7l1.5 1.7l4 7.6l4.5 6.4l1.5 0.7l1 1.4l4 8.1l0.5-0.5l1.5 3.1l1 0.7l0.5-0.3l7 10.4l0.5-0.3l2 3.1l0.5-0.7l1.5 1.2l3 5.4l0.5-0.6l2.5 2.1l2 3.4l1-0.2l1 1.5l0.5-0.2l0.5 1.4l0.5-0.4l0.5 1.6l1 0.7l0.5-0.3l2 1l1 2l2 1.6l2 3l2 1.2l1 1.8l0.5-0.4l4.5 3.4l2.5 3.6l0.5-0.9l0.5 1.1l1.5 0.7l0.5-0.8l2.5 4.1l1 0l2 2.9l2 0.3l1 2.3l2.5 2.3l0.5 1.8l0.5-0.7l1 0.8l1.5 2.1l1.5 1.2l0.5 1.4l0.5-1l0.5 1.3l1.5-0.4l0.5 1.2l1 0.5l0.5 1.6l1-0.1l1.5 4.8l1 1.3l1 0.7l1.5 0.2l1.5 3.2l0.5-0.4l1 1.8l0.5-0.1l1 0.8l1 2.2l1.5 1.1l2.5 3.7l0.5-1.1l1-0.4l2 5.3l3.5 2.8l0.5-0.8l0.5 1.9l2 2.8l1 0.4l0.5-0.8l1.5 2.8l0.5 2.8l1 0.9l1.5-0.3l1 0.5l1.5 1.8l1 3.1l0.5-1l0.5 0.5l0.5-0.7l1 0.9l1-0.2l1.5 3.2l0.5-0.3l0.5 1.5l1.5-1.4l2 3.8l0.5-1l0.5 1.4l0.5-1.6l0.5 0.1l0.5-0.6l0.5 0.2l0.5 1.8l0.5 0.1l1 1.9l0.5-0.9l1 1.1l0.5-0.9l1 2l1 1l0.5-0.2l0.5 1l1.5-0.7l1 1.1l0.5-0.5l1.5 1.7l0.5-0.2l0.5 1.5l0.5-2.7l1 2.4l0.5 0.7l0.5-0.2l0.5 1.1l1.5 0.6l1-1.1l0.5 1.2l0.5-1.1l0.5 0.2l0.5 1.3l0.5 0l1 1.5l1.5 1.1l1-0.6l2 2.9l0.5-1.2l1 1.2l1-1.3l3 2.4l1 1.9l2.5 2.5l0.5-0.1l0.5-1.9l1 2.9l0.5-0.7l0.5 1l1-0.7l2 2.4l1-0.1l1 1.7l0.5 2.1l0.5 0.1l1.5-1.3l0.5 0.4l0.5-0.7l1 0l2 2l0.5-0.5l0.5 0.6l0.5-0.1l1 3l0.5-0.4l0.5 2.1l1.5 1.8l1-2.5l2.5 2.5l0.5 1.4l1-1.7l1 2.6l1 0.8l1-1.2l0.5 1.1l1 0l0.5 2.1l0.5-1.7l0.5 0.9l1-0.1l0.5 1.1l1.5 0.8l0.5-1.1l1 3.4l0.5 0.2l0.5-0.4l0.5 1.4l1.5 1.6l1-0.3l0.5-1.2l0.5 1.4l0.5-0.9l1 0.9l1-1.6l1 2.4l0.5-1l0.5 2l0.5-0.4l1 0.8l1-1.9l0.5 0.8l0.5-2.2l1.5 4.6l0.5-0.1l1 2.1l1-0.2l1-1.4l1.5 3.7l2 3.3l1.5-0.7l0.5-1.7l1.5 2.6l0.5-1.7l0.5 1.5l2-1.5l1.5 6.1l0.5 0.2l1-2.9l0.5 0.8l0.5-0.7l1 4.5l0.5 0.1l0.5 1.2l1.5-2.2l0.5 3.2l1.5 2l0.5-1.4l1-0.4l0.5-2.4l0.5 2.6l1 0.2l1 1.7l0.5-0.1l0.5 3.6l0.5-0.5l0.5 0.2l0.5 2.6l0.5-0.6l0.5 1.9l0.5-1l0.5 2.4l1-2.1l1.5 2.1l1 3.1l0.5-1.3l0.5 0.3l1 3.8l1-1.9l0.5 4.5l0.5-3.8l1 4l0.5 1.2l0.5-0.4l0.5 3.1l1 1.4l0.5-0.1l0.5-4.6l1-2.8l2 9.1l0.5-0.8l1 4.5l1-1.4l1 1.1l1-5.6l1-1.6l0.5-0.1l0.5-1.5l0.5 2.7l1 1.7l0.5-4l1 2.2l0.5-1.9l0.5 2.6l0.5-1.2l0.5 0.6l0.5 2.6l0.5-2.4l0.5 2.3l0.5-6.8l0.5 2.2l0.5-3.6l0.5 0.3l1 4.2l0.5-3.5l0.5 1.7l0.5 0.2l0.5 3.7l0.5-1.3l0.5 0.3l1.5-1.9l1-0.4l0.5-2.1l0.5 1.9l0.5-1.6l1.5 4.6l0.5-1.7l1 3.2l1-1.7l2 2.7l0.5-3.5l0.5-0.2l1 4.2l1-0.6l0.5 2.4l0.5-0.6l1 1.4l1-2.4l0.5 2.3l0.5-1l0.5 1.7l0.5-2.3l0.5 0.2l0.5 2.3l0.5-1.5l1 1.6l1-3.1l0.5 2.9l0.5-1.1l1 3.5l0.5 4.4l0.5-1.4l1 2.7l1-8l0.5 2.7l0.5 0l0.5 1.4l1-0.2l0.5 3.9l0.5-5.9l0.5 4.2l0.5 0.1l1 3.6l1 0.7l0.5 2.5l0.5-3.6l1-1.2l0.5 4.3l0.5-1.8l1 3.6l0.5-2.7l0.5 2.8l1-1.8l0.5 2.5l0.5-4.6l0.5 5.4l0.5-1.8l0.5 3.9l0.5 1.2l0.5-0.4l0.5 2.5l0.5-3.4l0.5 1.2l0.5 6.4l0.5-0.8l0.5 2.8l0.5-8.8l1 3.4l0.5 4.4l1-3.7l0.5 2.1l0.5 0.1l0.5 4.2l1-8.1l0.5 1.4l0.5-1l0.5 4.2l0.5-0.6l0.5 3l0.5 11.3l0.5-11.3l0.5 2l1 0.9l0.5-4.6l0.5 8.1l0.5-9.6l0.5 5.7l1-4.8l0.5 6.9l0.5-3.4l0.5 4.3l1.5-4.1l0.5 8.4l1.5-10.1l0.5 0.7l0.5-0.2l1 3.8l0.5 9.2l0.5-7.7l0.5 4.3l0.5-1.1l0.5 6.1l0.5-2.1l0.5 6.9l0.5-7.9l0.5 2.5l1-2.8l1 2.7l0.5-3.4l1 10.2l1.5-7.4l0.5 2.4l0.5-4.7l0.5 1.4l0.5 13.1l0.5-8.1l0.5 2.7l0.5-4.3l0.5-0.4l0.5 6.6l0.5-4.4l0.5 5.3l0.5-2.7l0.5 8.9l0.5 0.5l0.5 7.2l0.5-13.6l1 7.9l0.5-12.6l0.5 3.4l0.5-2.2l0.5 1.7l0.5 13l0.5-9l1-0.4l0.5-2.2l0.5 11l0.5-10.2l0.5 4.9l0.5-5l0.5-0.3l0.5 18.1l0.5-13l0.5 12l0.5-2.3l0.5 4l1-14.7l0.5 5.1l1-7.5l1 20l0.5-15.9l0.5 14.1l0.5-9.7l0.5 10.4l1-20.6l1.5 23.3l0.5-1.5l0.5-9.9l0.5-0.7l0.5 4.7l1-3.9l0.5 1.4l0.5-2.5l1 16.6l0.5-17.7l0.5-1.2l0.5 2.1l0.5 14.7l0.5-12.3l0.5 11.5l0.5-4.4l0.5 13.1l0.5 1.5l1-23.5l0.5 23.2l0.5-21.6l0.5 5.9l1.5-3.5l0.5 3.9l0.5-8.2l1-5.1l1.5 13l0.5-4.1l0.5-0.2l0.5-5.1l0.5 11.7l0.5 1.8l0.5-15l1 11l0.5 0.3l1-12.1l0.5 21l0.5-7.6l0.5 62.5l4 0l0.5-72.6l0.5 1.7l0.5-2.5l0.5 7.2l0.5-9.8l0.5 21.1l0.5-15.3l0.5 2.9l0.5 14.1l0.5-17.5l0.5 9.3l1-10.5l0.5 16.6l0.5-3.3l0.5-15.6l1 0.1l0.5 5.7l0.5-6.7l0.5 5.3l0.5-2.8l0.5 3.7l0.5 23.5l1-22.6l0.5-3.1l0.5 11.4l1-6.7l0.5 12.2l0.5-10.7l0.5 7.3l0.5-13.8l0.5-1.2l1 72.6l0.5-64.7l0.5-1.3l0.5 66l0.5-56.1l0.5 56.1l0.5 0l0.5-68.7l0.5 68.7l0.5-59.4l0.5 59.4l0.5 0l1-68.1l0.5 68.1l0.5-50.7l0.5-10.3l0.5-2.7l0.5 9.8l0.5-10.6l0.5 8.7l0.5-5.1l0.5 12.5l2-9.2l0.5-13.1l0.5 70.7l0.5-57.6l0.5 57.6l2 0l0.5-60.5l0.5 60.5l0.5 0l0.5-66l0.5 1.6l0.5 64.4l0.5-60.9l0.5-8.6l0.5 11l0.5-8.1l0.5 11.6l0.5-14.1l0.5 1.7l0.5-2.5l0.5 11.5l0.5-1.3l0.5-12.6l1.5 24.2l1-13.7l0.5 9.2l0.5 0.4l0.5-9.8l0.5 10.7l0.5-14.3l0.5 5l0.5-0.7l1 16.3l0.5-15.7l1 2.6l0.5-11.4l1 5.8l0.5 0.4l0.5-3.1l0.5-0.3l0.5 14.4l0.5-12.7l1-6l1 15.1l0.5-2l0.5-10.7l1 8.7l0.5-3.9l1 63.8l0.5-60.7l0.5 60.7l0.5 0l0.5-49.7l0.5 49.7l0.5-72.2l0.5 19.7l0.5-10.3l1 10.8l0.5 52l0.5-54.2l0.5-11l0.5 65.2l1.5 0l0.5-57.8l0.5-8.9l0.5 66.7l0.5-68.5l0.5-0.3l0.5 68.8l0.5-54.8l0.5-5.1l0.5-0.1l0.5 17.8l0.5-22.7l0.5 1.2l0.5 17.7l0.5 46l0.5-48l0.5-8.4l0.5 56.4l0.5-50.6l0.5 50.6l0.5-66.9l0.5 4l0.5 16.9l0.5 46l0.5 0l0.5-64.4l0.5-4l0.5 10.5l0.5-14.6l0.5 6.5l0.5 66l0.5-66.9l0.5-0.7l1 67.6l0.5-63.2l0.5 10.3l0.5-6.9l0.5-1l1 60.8l0.5 0l0.5-68l0.5 0.6l0.5 13.2l0.5-9.6l0.5 8.4l0.5 55.4l0.5 0l0.5-63l1-4.5l1 11.5l0.5-9.7l0.5 0.8l0.5 17l0.5-14.7l1 19.8l0.5-18l0.5 60.8l0.5 0l0.5-60.9l0.5 60.9l0.5 0l0.5-50.9l0.5 50.9l0.5 0l0.5-42.9l0.5-20.5l0.5 0.6l0.5 62.8l0.5-65.1l0.5-0.5l0.5 6.3l0.5 59.3l0.5-52.9l0.5-8.3l0.5-3.4l0.5 4.4l0.5-7.5l0.5 67.7l0.5 0l0.5-67.1l0.5 1.8l0.5-6.4l1 71.7l0.5-66l0.5 66l0.5-49.4l0.5 49.4l0.5-49.5l0.5 49.5l0.5-69l0.5 22.2l0.5-13.1l0.5 59.9l0.5 0l0.5-61.9l1 61.9l0.5-51.7l0.5 10l0.5 41.7l0.5-45l0.5-5.4l0.5 10.3l0.5-9.4l0.5 49.5l0.5-51l0.5 51l1-62.2l0.5 0.7l0.5 8.9l1-2.3l0.5 54.9l0.5 0l0.5-62.9l1 6.3l0.5-6.9l0.5 13.4l0.5-23.2l1 13.4l0.5 59.9l0.5-64.3l0.5 11.7l0.5 52.6l1-58.2l0.5 58.2l0.5-61.8l0.5-8.1l0.5 69.9l1.5 0l0.5-70.8l1 18.1l0.5-15.4l1 68.1l0.5-67.9l0.5 67.9l0.5-48.1l0.5-5l0.5 53.1l0.5 0l0.5-60.1l0.5 4.7l0.5 55.4l0.5-63.2l0.5 63.2l1-68.6l0.5 68.6l0.5 0l0.5-62.9l0.5 19.9l1-10.8l0.5 7.6l0.5-11.8l0.5-2.6l0.5 60.6l0.5 0l0.5-59.7l0.5 8.2l0.5-12.5l0.5 4.8l0.5 59.2l0.5 0l0.5-65.7l0.5 65.7l0.5-57.2l0.5-1.1l0.5-12.8l0.5 71.1l0.5-46.5l0.5-10.7l0.5-0.3l0.5 57.5l0.5 0l0.5-67.7l0.5 67.7l0.5 0l0.5-53.6l0.5-15l0.5-3.2l0.5 2.9l0.5 12.4l0.5 56.5l0.5-65.2l0.5 0.5"/>
<path class="cv" stroke="#008080" d="M285 908.9l0.5-6.6l0.5 1.4l0.5 12.5l0.5-2.2l0.5-14l0.5 4.3l1 2.6l0.5-0.8l0.5 1.8l0.5 7.3l0.5-7.6l0.5 14.3l0.5-14l0.5-3.8l0.5 1.7l0.5-2.6l0.5 12.3l0.5 69.5l0.5 0l0.5-81.4l0.5 9.2l0.5-8.7l0.5 80.9l0.5-79.8l1-4.3l0.5 1.2l1 9l1-1.4l0.5 75.3l0.5-77.7l0.5-7.7l0.5-0.9l0.5 9.8l0.5-5.3l0.5 14.3l0.5-9.2l0.5 13l1-16.6l0.5-0.6l0.5 15.4l1-10.9l1-6.7l0.5 0l0.5 14.7l0.5-6.9l0.5 11.3l0.5-14.8l0.5 8.3l0.5 70.5l0.5-67.6l0.5-9.4l0.5-2.4l0.5-0.4l0.5 2.9l0.5-0.6l0.5 7.9l0.5 0.3l0.5-6.7l0.5-0.1l0.5 9.3l0.5-9.7l0.5 8.9l0.5 0.7l0.5 4.9l0.5-7.8l0.5 69.8l0.5-75.1l1-11.9l0.5 7.1l0.5-3.6l1 16.3l0.5-14.7l1 10.3l0.5-11.4l0.5 14.1l1.5-16.2l0.5 8.9l1 5.4l1-12l0.5 7.7l0.5 0.1l0.5 9.3l0.5-10.8l0.5 5.1l1-13.2l0.5 6.6l0.5 0.2l1.5-5.4l1.5-2l0.5 2.8l0.5-0.2l0.5 4.6l0.5 0.4l1 3.9l0.5 8.4l0.5-8.5l0.5-4.4l0.5 0.8l0.5-8.1l0.5 9.1l0.5-8.6l0.5 5.8l0.5-5.9l0.5 7.5l0.5-3.9l0.5 12.5l0.5-3.9l0.5 1.2l0.5-2.1l0.5-7l0.5 1.3l0.5 9.7l0.5-11.3l0.5 9.3l0.5-16.1l0.5 10.3l0.5-3l0.5 3.3l0.5-7.4l1 4.8l0.5 9.1l1.5-14.8l1 2.9l0.5-5.5l0.5 88.2l0.5-74.9l0.5-10.2l1.5 4.5l0.5 6.2l0.5-8.7l0.5-0.3l0.5 7.4l0.5-0.3l0.5-2.3l0.5 0.4l0.5 5.2l0.5-7.5l1-4.3l0.5 3.5l0.5-0.9l0.5 14.5l1-16.4l0.5 14.1l0.5-0.8l0.5 0.9l0.5-2.6l0.5-11.1l1-1.5l0.5 10.3l0.5 1.4l0.5-8.3l0.5 81.7l0.5-85.7l0.5-0.3l0.5 4.3l0.5-2.1l1 16.3l0.5-9.4l1-7.2l1 12.1l1-3.1l0.5-7.2l0.5 3.5l0.5-1.4l0.5 1.1l0.5 4l1-9.9l0.5 10.1l0.5-9.2l0.5 4.6l0.5-7.9l0.5-1.4l1 3.2l0.5-1.8l0.5 3.8l1-1.5l0.5 5.3l0.5-5.1l1 12.6l0.5-11.4l0.5 9.8l0.5 0.4l0.5-9.1l0.5-4.2l0.5-0.8l0.5 9.3l0.5-5.8l0.5 9.5l0.5-10.6l0.5 4l0.5-6.5l1 4.8l0.5-5.9l1 5.9l0.5 8.6l0.5-10l0.5 10.6l0.5-15.3l0.5 9.6l1-10.1l0.5 10.1l0.5-13.5l0.5 4.8l0.5 0.7l0.5 7.7l0.5-11.3l0.5 0.1l0.5-3.8l1 8.8l0.5-4.9l0.5 2.3l1 9.3l0.5-12.9l0.5 1.6l0.5-0.3l1-5.2l1 8.6l0.5-8l1 7.2l2-8.2l0.5 9.6l0.5-4.4l0.5-0.1l0.5-3l0.5 6.5l0.5-1.3l0.5-10l0.5 11.6l1-12.8l1 4.3l0.5-0.1l0.5 4.6l1 2l0.5-8.1l0.5 10.1l1-11l0.5 1l1 9.4l0.5-5.5l1 12.4l0.5-11l1-5l0.5 2.7l0.5-1.5l1.5 11.1l1-12.5l0.5 6.4l0.5 91l0.5-100.8l0.5 100.8l0.5-94.2l0.5-5.4l0.5-0.7l0.5 9.6l0.5-7.7l0.5 6.9l1-10.2l0.5 0l0.5 2.2l0.5-0.8l1-0.4l1 2.4l1 0.1l0.5-1.6l0.5 0l0.5-4.7l1-2.9l0.5 7.2l1 4.9l0.5-11.4l0.5 4.3l0.5-6l0.5 3.8l0.5-0.6l0.5 1.3l0.5-2l0.5 0.3l0.5-6.8l0.5 2.6l0.5-2.3l1 6.8l1-4.3l0.5 3.9l0.5-4.6l0.5 1.3l0.5-6.9l0.5 2.7l0.5-4.2l0.5 11.6l0.5-4.8l0.5 2.9l0.5-0.4l0.5-4.3l0.5-0.6l0.5 4.1l0.5-4l0.5 3.8l1-7.3l0.5 0.8l0.5-0.5l1 5.8l1.5 0.6l0.5 1l1-8.9l0.5-0.6l1 2.6l0.5 4.5l1-4.6l0.5 3.7l0.5-3.1l0.5 0.8l0.5-3.8l0.5 2l0.5-5.1l1 6l0.5-2.7l0.5 0l0.5-1.5l0.5 1.1l0.5-5.5l0.5 4.6l0.5 0l1-1.3l1 0.7l0.5-1l0.5 1.4l0.5-2.1l0.5 1.4l0.5-4.2l0.5 3.3l1-5.7l0.5 2.9l0.5-0.4l0.5-3.2l0.5 3.5l0.5-4.4l0.5 3.4l0.5-0.5l0.5-4.2l0.5 2.1l0.5-3.7l0.5 1.6l0.5-1.2l0.5 0.1l2 5.6l1-2.9l1-0.7l0.5-3.4l0.5 2.4l0.5 0.2l1-4.6l0.5 3.6l0.5-5.3l1 1.1l1-0.2l0.5-0.9l0.5 0.3l0.5 1.7l0.5-3.6l1 2.5l1-0.8l1.5-4l0.5 1.8l0.5-0.7l0.5-3.2l1 3.1l0.5-2.5l0.5 0.6l1-1.6l1 1.3l0.5-2.4l0.5-0.1l0.5-1.5l0.5 0.2l0.5-0.5l0.5 3.1l0.5-3.8l0.5-0.3l1-2.8l0.5 2.3l0.5-1.6l0.5 1.5l0.5-4.4l0.5 4.4l0.5-5.2l0.5 2.8l0.5-1.1l0.5 0.9l1-5.3l1 2.5l0.5 0l0.5-1.5l1-0.3l0.5 2.4l0.5-4.6l0.5-0.4l0.5 2.9l1-4.5l1 0.2l0.5-1.6l0.5-0.1l1-3.9l1 3.5l0.5-1.5l0.5 2l0.5 0.2l1.5-3.2l0.5 2.1l1-2l1-4.4l1-0.3l0.5 2l0.5-1.7l1 1l0.5-0.3l0.5 1.5l1.5-4.2l0.5 0.6l0.5-1.6l1 2.1l0.5-4.5l0.5 0.5l0.5-3.2l0.5 1l0.5-1.9l0.5 1.5l0.5-2.2l0.5 1.7l0.5-1l1 0.8l0.5 2.5l0.5-0.8l0.5 1l3.5-6.4l1 0.2l0.5-2.2l1.5-1.2l1 0l0.5 0.5l0.5-0.4l0.5 1.1l0.5-1l0.5 1.1l1-4.1l0.5-0.8l1 0.7l0.5-2.5l0.5 0l1.5-3.3l0.5 1.2l0.5-1.2l0.5 0l1 1.9l0.5-0.6l0.5 0.3l3-5.1l2-2.5l0.5 0.4l0.5-1.3l0.5 1.2l0.5-2.3l0.5 2.1l0.5-2.3l1.5-0.7l0.5 0.4l1-1.9l1-0.2l0.5-1.5l0.5 0.1l0.5 1.4l1-4.8l0.5 0.6l0.5-1.6l0.5 0.5l0.5-0.7l1 1.6l0.5-0.2l2-6l1.5-1.1l0.5 1l1-3.5l1-0.3l2 0.6l0.5-0.3l0.5-1.6l0.5 0.4l2-3.2l0.5 0.5l1-1.9l0.5-0.1l1-3.2l0.5 0.8l1-1.4l0.5 0.9l0.5-0.5l2.5-3.8l1-3.1l0.5 0.2l0.5-0.8l1.5-0.6l0.5 0.3l1.5-3.2l0.5 0l0.5 0.7l0.5-0.1l0.5 0.9l0.5-0.2l2-6.2l1 1.7l0.5-2l0.5 1.2l4-8l0.5 0.6l1-1.1l0.5 0.6l1.5-3.6l1-0.7l0.5-1.2l1.5-0.3l3-4.9l0.5 0.7l2.5-6l0.5-0.3l1 0.4l1-0.6l2-3.3l0.5-1.9l0.5 0.5l1.5-2.4l1 0l1-1.7l1 0l1-1.4l1.5-4l0.5 0.5l0.5-0.2l0.5-1.3l0.5 0l1-1.3l0.5 0.1l2-4.7l1-0.8l1 0.2l4.5-7.1l2-0.6l2-3.1l0.5-2.2l0.5 0.8l1-1.6l0.5 0.7l0.5-0.5l2.5-5.1l1.5-0.2l0.5-0.8l1-0.2l2.5-4.7l1.5-1.1l1.5-2.4l1-0.3l1-2.2l2-1.9l1.5-2.3l2-1.5l1.5-3.1l1.5-2l0.5-0.1l2-3.1l1.5-3.4l1-0.9l0.5 0.2l3-3.5l1-2.8l1.5-1.8l0.5-1.3l1-0.3l1.5-1.7l2.5-5.3l4.5-6.1l0.5-1.6l0.5 0l1-3.3l1-1.5l0.5 0.4l1.5-2.7l0.5-1.8l7.5-10.8l5-9.7l0.5 0l2.5-4l1-0.7l2-4l1-0.7l1-1.7l1.5-3.4l1 0l2.5-5.9l2.5-3.3l3.5-7.4l2-2.9l5.5-12.5l2.5-8.9l2.5-6l15.5-52.2l3-12.7l2-12.1l4-49.4l2-15.9l4.5-20.1l5-19.3l4.5-25.2l4-26.7l5.5-47.3l5-51.3l3-15.3l2-6.7l1.5-1.2l1.5 2.2l4 18.3l6.5 21.8l4 18.2l3 19.5l3.5 37.3l3.5 30.4l5.5 39.6l8 43.1l5 23.3l6 23.1l7 22l5 12.1l1.5 5.6l5.5 15l2 7.3l4 10.6l4 13.1l6 16.4l6.5 15.2l2 2.6l4 9.7l4.5 8.4l2.5 4.1l2 2.1l2 5l3 5.4l0.5 0.1l3 4.6l2 4.3l2 1.9l2.5 5.9l2.5 1.3l2.5 5.1l3.5 4.7l1 2.5l1 1.4l2 1.3l2 3l1 2.7l1.5 0.8l1 1.7l0.5-0.5l0.5 1.3l1.5 1.7l0.5-0.5l0.5 1.3l2 1.1l2 4.6l0.5-0.1l0.5 1.1l0.5-0.2l0.5 0.6l1 0l2 3.2l2 2.2l1-0.3l1.5 1.1l1.5 3.4l1 1.3l0.5-0.2l0.5 1.5l2 1l0.5-0.9l1 1.8l0.5 0l1.5 1.7l1.5 0l0.5 1l1.5 1.1l3 4.7l0.5-0.2l2.5 2.8l0.5-0.6l0.5 1.9l1.5 0.8l0.5 0.9l0.5-0.9l0.5 1.1l0.5-0.2l0.5 1.4l0.5-0.1l1.5 2.9l1 0.6l0.5 1.5l1.5 2l0.5-0.9l0.5 0.2l2.5 3.3l1.5 0.3l0.5 1.6l2.5 3l1 0.5l0.5-0.2l1.5 3.2l0.5-0.1l0.5 0.9l1-0.6l2.5 5.2l0.5 0.5l2 0.1l3 4.3l1-0.4l1.5 3.2l0.5 0.7l0.5 0l3 5.4l1 1.2l0.5-0.2l2.5 2.9l0.5-0.5l2 3.9l0.5-0.8l0.5 0.4l0.5-1l0.5 1.8l0.5-0.2l1 2l1 1.1l0.5 0l1.5 2.4l2.5 1.4l0.5-1.2l0.5 1.8l0.5-1.5l0.5 2.3l0.5-0.9l0.5 0.5l1.5 3.8l0.5-0.4l0.5 0.3l0.5-0.9l1 2.7l1.5-0.9l1.5 1.9l0.5-0.8l1.5 2.7l1.5 0.8l0.5 2l2-1l0.5 1.5l0.5 0l0.5 0.8l0.5-0.9l0.5 0.6l0.5-0.6l1 1.9l0.5-2.1l2 4.6l1.5 0.8l1 1.9l0.5-0.7l0.5 0.5l0.5-0.7l1 2.3l1-0.6l0.5-1l0.5 0l1 1.4l0.5-0.8l0.5 1.8l0.5-0.8l0.5 0.6l2-0.4l1 0.4l0.5 1.8l1 0.2l0.5-0.6l1 2.7l1 1l0.5-0.5l0.5 0.8l0.5-1.6l2.5 4.5l1-2.7l1.5 3l2.5-1.2l1 4l0.5-0.2l0.5 1.1l0.5-1.3l1.5-0.9l1.5 2.7l1-0.3l1 1.5l0.5-1.6l0.5 0.3l1-1.8l1 1.9l0.5 3.5l1.5 3.7l1-2l0.5 0.8l0.5-0.3l1 1.9l0.5 0.3l0.5-0.8l1 2.6l0.5-0.5l1 1.9l2 1l2-1l1 2.5l0.5-1.1l0.5 0.8l1-1l0.5 1.8l2-4l3 7.3l0.5-2.1l1 2.3l1-1.4l1.5 0.7l0.5 2.6l0.5-1.9l0.5 2l0.5-1l0.5 1.8l1-1l0.5 1.1l0.5-3l0.5 1.6l1-0.9l1 3.9l1 1.6l1-2.9l1 1.4l0.5 1.6l0.5-0.4l1 1.8l0.5-1.9l1-0.7l1 2.4l0.5-1.1l1-0.1l0.5 2.9l0.5 0l0.5 1.1l1-2.4l0.5 1.6l0.5-1l1 3l0.5-1.4l0.5 3.1l0.5-2.1l0.5 1.6l1 0.3l0.5-0.8l0.5 1.2l0.5-3.1l1-0.3l2 6.7l1-1.1l0.5 1.4l0.5-3l0.5 0.7l0.5-2l1 2.5l1-0.2l2.5 6.5l1-2l1-1l1.5 2.7l0.5 2l1-0.8l0.5-1.5l0.5-0.1l2.5 5.7l1.5-1.9l0.5 1.3l1.5 1.2l1 5l0.5 0.4l0.5-0.5l0.5-1.4l0.5 2.2l0.5-0.1l0.5 0.7l1-3l1 2.5l0.5-2.2l0.5 0.2l0.5 6.4l0.5-0.8l0.5 3l1 0.8l0.5 2.3l0.5-2.6l0.5 0.8l0.5 3.9l1-1.6l0.5 0.2l0.5-1.5l0.5 0l0.5 2.4l1-1.5l2.5 7.8l0.5-4.5l1 0.5l0.5-2.7l1.5 6.1l1-1.2l0.5 0.6l0.5-0.8l0.5 0.2l0.5-1.9l0.5 0.6l0.5-2.3l0.5 1.8l0.5-0.5l1 2.2l0.5 3.2l0.5 0.5l1 0.4l0.5-3.1l1.5 6.5l1-3.7l0.5 2.1l0.5-3.2l0.5 1.1l1-1.1l1 5.6l0.5-0.2l1-2.7l0.5 2.5l1-5.2l1 2.2l0.5-2.5l0.5 6.1l1-2.4l0.5 4.4l0.5-1.9l1 3.9l0.5 0.2l0.5 1.5l1-7.9l1 1.7l0.5-0.9l0.5 1.2l0.5-1.8l0.5 3.5l0.5-2l1 2.7l0.5 3.3l0.5-2.9l0.5-0.3l0.5-5.3l1 5.3l1.5 2.7l0.5 2.3l1-5l0.5 6.7l1-8l1 2l0.5 0.3l0.5-0.4l0.5 1.7l0.5 0.3l1 8.5l1.5-5.1l0.5-0.2l0.5 1.6l0.5-1.2l0.5-4.1l1 6.6l1-0.7l0.5-3.6l0.5 3.7l0.5-3.1l0.5 5.2l0.5-2.8l1.5 0.4l1 3l0.5-3.2l1 7.5l0.5-6l0.5 2l1.5-5.7l0.5-0.7l0.5 0.9l1-3.2l0.5 4.1l0.5-3l1 4.4l0.5-0.2l0.5-4l1 6.8l1-6.8l0.5 4.2l0.5-0.3l0.5 1l1 5.6l0.5 9.1l1-5.7l0.5 0.5l0.5-4.1l0.5 4.9l1-5.5l1 8.4l0.5-5l0.5 0.7l1 5.1l0.5-2.6l1 7.1l0.5-2.7l1 0l0.5 0.6l0.5-3.6l0.5 4.5l0.5-3.1l0.5 7.8l0.5-3.6l0.5 4.3l0.5-5.9l0.5 6l0.5-1.4l0.5-5.8l0.5 6.9l1-6.2l1 12.9l0.5-6.5l0.5 4.4l0.5-5.6l0.5 12.1l0.5-7.8l0.5 14.5l1-11l1.5-2l0.5 14.1l0.5-9.7l0.5 6.4l1-4l0.5 14.2l0.5-6.9l0.5 6l0.5-5.1l0.5 5.5l0.5-9.6l0.5 14.1l0.5 0.6l0.5-5.6l0.5 0l0.5-1.6l0.5 0.3l0.5-6.9l0.5 4.8l0.5-8.7l1 9.1l0.5-6.7l0.5 4.8l0.5-12.6l1 12.9l0.5-5.8l0.5 12l0.5-9.1l0.5 1.5l0.5-0.5l0.5 3.9l1 2.6l0.5 4.6l1-8l1 10.7l0.5-9.6l0.5 1.8l0.5 0l1-10.2l0.5 0.2l0.5 13.5l1-13.6l0.5 18l0.5-10.4l0.5 2.7l0.5-11l0.5 12l0.5-9l0.5 0l1.5 12.3l0.5 0.3l0.5-2.3l0.5-0.5l0.5-15.9l1 0.8l0.5 16.9l1-12.1l0.5 3.5l0.5-4.3l1 9.5l1-6.3l0.5 14.9l0.5-16.8l1.5 7l0.5 13.7l1 3.5l0.5-19.2l1 6.8l0.5 9.6l0.5-16.3l0.5 3.6l0.5-4.6l1 17.1l0.5-7.4l1-5.6l0.5 1l0.5-8.3l0.5 3.2l0.5-1.4l1 18.5l0.5-20.2l0.5-1.2l1.5 17.2l0.5-1.3l0.5-7.6l0.5 0.6l0.5 3.5l0.5-1.5l0.5 10.4l0.5-10.3l0.5 1.4l0.5-8.4l1 17.8l0.5-10.2l0.5 8.2l0.5-15.8l0.5 16.7l0.5-14.2l1 9.4l0.5 1.3l1-8.6l0.5-1.2l0.5 1.2l0.5-0.5l0.5 11.8l0.5-8.5l0.5-0.3l0.5 5.5l0.5-1.7l0.5 14l0.5-17.1l0.5 16.2l0.5-15.6l1 9.1l0.5 11.1l0.5-16.3l0.5 10.8l1.5-13.4l0.5 14.4l0.5-15.6l0.5 20.9l0.5-0.1l0.5-16.2l0.5 15.6l0.5 0.9l0.5-12.2l0.5 5.3l0.5-11l1 17.1l0.5 49.4l1 0l0.5-44.4l0.5 44.4l1.5 0l0.5-66.2l0.5 66.2l0.5 0l0.5-53.1l0.5 53.1l1.5 0l0.5-49.5l0.5-1.1l0.5-4.3l1 54.9l0.5 0l0.5-57.7l0.5 57.7l0.5 0l0.5-53.8l0.5 53.8l1.5 0l1-59l0.5 59l1.5 0l0.5-62.9l0.5 62.9l1-61.7l0.5 61.7l1 0l0.5-61.7l0.5 61.7l0.5-51.7l0.5 8.8l0.5-12.3l0.5-2.3l0.5 57.5l0.5-41.9l0.5 41.9l0.5-65.2l0.5 65.2l1 0l1-61l0.5 61l0.5-62.7l0.5 6.2l0.5-6.4l0.5 62.9l0.5-45.3l0.5 45.3l0.5 0l0.5-60l0.5 6.2l0.5 53.8l0.5-46.8l0.5-0.2l0.5-7.9l1 54.9l0.5-43.1l0.5 43.1l1-57.6l0.5 57.6l0.5 0l0.5-69.2l0.5 69.2l0.5-64.2l0.5-2.8l0.5 17.8l0.5-16.5l0.5 3.6l0.5 0.5l0.5 11.9l1-20.1l1 9.3l1 60.5l0.5-57.4l1 57.4l0.5-63.2l0.5 63.2l0.5 0l0.5-35.9l0.5 35.9l0.5-63.2l0.5 63.2l1 0l0.5-59.1l0.5-3.1l0.5 1.1l0.5 14.1l0.5 47l0.5-57.7l0.5 57.7l0.5-44.8l0.5 2.5l0.5 42.3l1 0l0.5-63.7l0.5 6.5l0.5 57.2l0.5 0l0.5-60.4l0.5 7.1l0.5-3.1l0.5 56.4l0.5-63.4l0.5 17.9l0.5-21l0.5-0.5l0.5 67l0.5-69.8l1 12l0.5 57.8l0.5-49.1l0.5-10.5l0.5 59.6l0.5-60.6l0.5 60.6l0.5-58.8l1-13.2l0.5 11.5l0.5-4.3l0.5 2l1 10.9l0.5-11l1-2.4l1 65.3l1.5 0l0.5-69.3l0.5-3.4l1 15.5l0.5-5.9l1 63.1l0.5-50.3l0.5 3.9l0.5-22.1l1 1l0.5 5.7l0.5-6.7l0.5 68.5l0.5 0l0.5-62.1l1 21l0.5-23.2l1 5.5l0.5-3.3l0.5 62.1l0.5-64l0.5 64l0.5-61.5l0.5 61.5l1 0l0.5-61.4l0.5 61.4l0.5-61.7l1-8.2l0.5 69.9l0.5 0l0.5-65.5l0.5 2l0.5-4.4l0.5 9.4l0.5 1.2l0.5 57.3l0.5-57.1l1-6.6l0.5 3.5l0.5 60.2l0.5-56.4l0.5-8.8l0.5 2.3l0.5 18.4l0.5-21.3l0.5 65.8l0.5-72.1l0.5 72.1l0.5 0l1-63.4l0.5 63.4l0.5-53.5l0.5 5.6l0.5-4.7l0.5-16.5l0.5 69.1l0.5-71.7l0.5 5.5l0.5-3.7l1 69.9l0.5 0l0.5-69.2l0.5 69.2l0.5-70.8l0.5 70.8l0.5-73.3l0.5 73.3l1.5 0l0.5-51.9l0.5 51.9l1 0l0.5-67.9l0.5-4.4l0.5 4l0.5-6.9l0.5 75.2l0.5-71.3l1 21.7l0.5 49.6l0.5-58.3l0.5 58.3l0.5-71.1l0.5 18.6l1-24.5l1 77l0.5-54.5l0.5-16.3l0.5 13l0.5-14.9"/>
<path class="cv" stroke="#ff00ff" d="M285 912.8l0.5-1.4l0.5-8.5l0.5-1.9l0.5 1.3l0.5 6.5l0.5-0.1l1-7.3l0.5 4.5l0.5-8.3l1 14.2l0.5 1.2l0.5-7.6l1.5-5.3l0.5 14l1.5-16.6l0.5 12.1l0.5-8l0.5 16.2l0.5-10.9l1-3.8l0.5 7.2l0.5-1.2l0.5 1.8l0.5-3.1l1-2.1l0.5 8.2l0.5-7.9l1 6.8l0.5-12.5l0.5 0.6l0.5 2l0.5 82.1l0.5-85.4l0.5 14l0.5-5.9l0.5 0.2l0.5-4.1l0.5 4l0.5-1.7l0.5-8.3l2 16.4l0.5-8.2l0.5 10.8l1-10.6l1 9l0.5-7.7l0.5-0.6l0.5-4.8l1 12.3l0.5-10.9l0.5 1.7l0.5 8.6l0.5 3.7l0.5 0.6l1.5-12.5l0.5-1l1 6.5l0.5-2.6l0.5 0.2l0.5-1.6l0.5 6.4l0.5-4.6l1 10.3l0.5 0.8l1-10.9l1-2.6l0.5 3.6l0.5-0.7l0.5 9.6l0.5-9l0.5-0.4l0.5 2.6l0.5-3.5l0.5 3.1l0.5-0.8l0.5-0.9l0.5-6.2l1 0.6l0.5 11.7l0.5-7.7l1 0.3l0.5 8.3l0.5 0.2l0.5 2.1l0.5-9.8l0.5-1.1l0.5 2l0.5 8.1l0.5-6.8l0.5 10.4l0.5-13.6l0.5 2l0.5 9.5l0.5-1.6l0.5 66.5l0.5-81.7l0.5 5.7l0.5 0.3l0.5 3.1l0.5-5.6l0.5 2.1l0.5-2.4l0.5 17.7l1-21.1l1 7.6l0.5-4.3l0.5 11.7l1-14.2l1 8.2l1-10.1l0.5 7.1l1-9.9l0.5 7.7l0.5-5.6l0.5 6.1l0.5-1.9l0.5 10.5l0.5-7.4l0.5 11.2l0.5 2.7l0.5-10.5l1.5-12.5l1 8.5l0.5-0.9l0.5 1.6l0.5 11.4l0.5-12.1l0.5-1.4l0.5 6.1l0.5 1.3l1-10.5l1 14.3l0.5-14l1 1.5l0.5-3.1l0.5 0.6l0.5 9.2l0.5-6.7l0.5-1.9l0.5-0.4l0.5 82l0.5-82.1l1 7.3l0.5-9.2l0.5 13l0.5 2.9l1-12.6l0.5 2.1l0.5 78.6l0.5-80.7l0.5 80.7l0.5-72.5l0.5 0.5l0.5-11.1l1.5 5l1 10.7l0.5-2.3l0.5-10.3l0.5 6.8l0.5-8l0.5 7.8l0.5 0.8l1-11.1l0.5 1l0.5-1.6l1 16.1l0.5-18.9l0.5 0.3l0.5 2.1l0.5 15.4l0.5-8.7l0.5 3.5l0.5 0.5l1-9.6l0.5 14l1.5-12.6l0.5 6.7l0.5-2.8l0.5 10.6l0.5-8.7l0.5 2.5l0.5-5.4l0.5 1.2l0.5-3l0.5 3.3l0.5-1.4l0.5 5.2l0.5-9.6l1.5 12.9l0.5-5.4l0.5-0.1l0.5-10.7l0.5 9.7l0.5-4.9l0.5 3.9l0.5-8.2l0.5-1l0.5 87.4l0.5-75.5l0.5-10l0.5 8.5l1-6.2l0.5 7.1l0.5 76.1l0.5 0l0.5-79l0.5-2.3l0.5 1.6l0.5-4.4l0.5 12.1l1-18.7l0.5 8.9l1 6.7l0.5-1.6l0.5 1.7l1-12.6l1 8.7l1-10.9l0.5 3.9l0.5-1.4l0.5 6.8l1-7.1l0.5 10.5l0.5-4.4l0.5 6.8l0.5-6.9l0.5-0.1l0.5 9.5l0.5-11.2l0.5-0.6l0.5-3.7l0.5 87.7l0.5-82.5l1-10.5l0.5-0.1l0.5 6.9l1-8.1l0.5 7.5l1 5.3l0.5-13.7l0.5 5.9l1-4.7l0.5 4.8l0.5 89.2l0.5-79.9l1-9.9l0.5 3.9l0.5-3.6l1-2.5l0.5 2.7l0.5 0l0.5-2.5l1 5.5l0.5-4.9l1-2.1l0.5 2.8l0.5-2.5l0.5 7.9l0.5-1.7l0.5-7.2l0.5 2.1l0.5-4.9l0.5 7.4l1.5-9.9l0.5 0.3l0.5 2l1-3.6l0.5 14.2l0.5 0.8l1-10.8l1 8.1l0.5-9.2l0.5 7l0.5-6.3l0.5 6.7l1-7.2l0.5-0.7l1.5 9.8l1-11.7l0.5 6.3l1-6.3l0.5 0.6l0.5 4.2l0.5-3.9l1 5.2l0.5-10.2l1 2l1 9.1l1.5-12.1l0.5 4.1l0.5-3.2l0.5 2.8l0.5-7.6l0.5-0.4l0.5 6.5l1-3.6l1 6l0.5-2.9l1 3.4l0.5-5.4l0.5 1.9l0.5-4.7l1-2.4l1.5 3.5l1 5.2l0.5-8.8l0.5-1.6l0.5 3.7l1 1.7l0.5-1.6l0.5-7.6l1 1.8l0.5-1.8l1 4.3l0.5 0.4l0.5 3.6l0.5-5.8l0.5 2.7l0.5-1l1-8.1l0.5 2.2l0.5-4l1.5 8.6l0.5-3l0.5 2.1l0.5-2.7l0.5 4.9l0.5-4.6l0.5-1l0.5 6.4l1-6.4l0.5 2.6l1-5.6l0.5 1.3l0.5-0.1l1.5-4.5l0.5 3.5l0.5-5.9l0.5 0.7l1 6l1-1.7l0.5 0.4l1.5-7.1l0.5 1.7l0.5 0.2l0.5-3.8l0.5 5l0.5-0.3l0.5-2.7l1-1.8l0.5-3.1l0.5 1.1l0.5-0.5l0.5 5l1-7.3l0.5 0.3l0.5-1.1l1.5 1.9l0.5-1.4l0.5 4l0.5 0.3l1-3.5l0.5 3.8l0.5-2.8l1 2.4l0.5-4.7l1-0.6l0.5 1.3l0.5-2.7l0.5 1.2l0.5-1.1l0.5 1.1l0.5-3.6l1.5 4.3l0.5-1.9l0.5-0.1l0.5-3.9l0.5 0.2l0.5-1.8l1 2.8l0.5 0.1l2.5-8.6l1-1.5l0.5 0.3l0.5-0.9l1 3.5l0.5-2.5l0.5 0.2l1.5-4.7l1 3.3l0.5 0.1l0.5 2.9l2-6.7l0.5 1.6l0.5 0l0.5 2.1l0.5-2.5l0.5 1.5l0.5-2.3l0.5 0.3l1-3.2l0.5 1.8l0.5-1.8l0.5 2.4l1-3.3l0.5-0.1l0.5-1.6l0.5-0.1l1-3.5l0.5 1.4l1.5 1.5l1-1.4l0.5-1.9l0.5 1.5l1.5-1l0.5 1l1-2.1l1 1.2l0.5-0.4l0.5 0.7l0.5-3.3l0.5 0.7l1-0.8l2-3.6l0.5 2.3l0.5-0.8l0.5 1.4l0.5-4.1l0.5 0.3l0.5 1.8l1-3.1l0.5 0.4l1-3l1 0.1l0.5 0.6l0.5-1.6l0.5 1.9l1.5-1.4l0.5 1.3l0.5-2.8l0.5 1l1-2.6l0.5-0.6l0.5 0.3l0.5-0.6l0.5 0.2l1.5-2.7l0.5 0.7l0.5-1.7l1-0.4l0.5 1.3l0.5-1.3l0.5 0.6l1-1.8l1-0.3l1-2.7l1-0.4l0.5 0.3l2-1.2l1-1.9l2-0.3l1.5-3.9l0.5 0.9l0.5-1.4l2 1.1l2-3.7l1-0.7l0.5 0.6l0.5-1.9l1 0.1l1-1.7l1 0.1l1-0.6l2.5-4.7l0.5 0l0.5 0.8l1.5-3.8l0.5 0.4l0.5-0.3l1-2l0.5 0.3l0.5-1.1l1.5-0.2l0.5-0.8l0.5 0.3l1.5-2.6l0.5 1l0.5-0.2l2-4.3l0.5 0.5l0.5-1.4l1 0.3l1-1.6l0.5 0.4l0.5-4l0.5-0.6l0.5 0.4l1-1.8l0.5 0.7l0.5-0.7l0.5 1.6l2-4.5l1-0.6l0.5 0.5l0.5-1.6l0.5 0.5l0.5-1.7l0.5 1.2l1-2l0.5 0.5l1.5-3.9l1 0l0.5-1.5l0.5 1.2l1-2.9l1 0.5l0.5-0.9l0.5 0.2l2.5-4.7l1-0.5l0.5 0.5l0.5-0.3l2.5-3.8l2.5-1.9l3-5.4l0.5 0.3l0.5-0.5l0.5 1.2l0.5-1.3l0.5 0.1l0.5-1l1.5-0.9l1-3l0.5 0.9l0.5-2l1-1.5l0.5 0.2l1-1.1l1-2.7l1.5-1.4l0.5 0.8l0.5-1.4l1 0.5l0.5-2.1l1.5-0.7l2-3.3l0.5 0.5l1.5-3.2l1-1.3l1-0.4l1.5-2.9l1-0.6l0.5 0.3l2.5-5.1l0.5-0.5l1 0.6l1.5-0.7l0.5-1.1l0.5 0l1-2.5l2-2.9l0.5-0.1l2.5-3.8l1 0l2-2.7l1.5-3.4l1 0l0.5-1.2l1.5-1.2l1-2.2l1-0.9l0.5 0.2l1-1.2l2-4.4l2-0.6l1.5-3.5l2-1.7l0.5-1.3l1-0.3l3-4.1l3-6l1-0.1l1.5-1.1l0.5-1.6l4-5.8l4-7.8l0.5-0.7l0.5 0.3l2-3.9l4-5.9l1.5-4l2.5-2.6l2.5-5.4l0.5-0.2l4-6.7l2.5-5.3l8.5-12.1l4-6.9l2.5-3.3l1.5-3.7l2.5-3.3l2.5-5.9l1.5-2l2-4.3l3.5-8.3l12-38.4l9.5-37l3.5-17.9l6-57.1l2-12.2l9-42.1l7.5-44l10.5-100.9l3-16.1l1.5-4.5l1-0.1l0.5 0l1 1.2l3 7.2l4 13.1l6 47l8.5 50.8l13 90.9l9 43.1l8.5 31.8l4.5 11.7l4 12.3l4.5 10.6l12.5 36.9l6.5 16l0.5 2.5l5 11.2l2.5 7.3l0.5 0.2l2.5 5.8l1.5 1.8l6 13.7l1.5 2l3 6.5l4 6.3l2 4.5l0.5 0l0.5 1.2l0.5 0l2 3.9l1.5 1l4 8l1.5 1.4l0.5 1.5l2.5 3l2 3.7l5 6l5 7.3l1 0.3l0.5 0.9l0.5-0.5l0.5 1l1.5 1.1l0.5 1.6l2 2.9l1 1l3.5 1.5l0.5 1.5l1.5 2.1l1.5 1.1l0.5-0.1l1.5 3.1l1 0.2l0.5 1l1 0.1l3.5 3.7l0.5 1.4l1 1l1.5 0.4l0.5 1.1l0.5-0.6l0.5 0.6l0.5-0.4l2 4l0.5-0.6l3 3.1l1.5 0.1l1 2.8l0.5-0.5l1.5 1.8l0.5-0.3l0.5 0.7l0.5-0.2l2 4.1l2 1.6l1-0.2l1.5 2l0.5-0.1l2.5 3.6l0.5-0.2l1 1.6l0.5-0.1l1 2.1l2 0.9l2.5 3.1l0.5 0.1l1.5 3l0.5-1.1l0.5 0.4l2.5 5.2l2.5 0.6l2 3.6l0.5-0.2l5 6.8l0.5 1.7l0.5-0.6l3 2.8l0.5-0.3l1 0.9l0.5-0.1l1 3.1l1 0.5l0.5 1.5l1.5 0.4l1.5 2.8l1 0.3l1.5 2l1 0.5l0.5 1.8l1-1.9l0.5 1.3l0.5-1.7l1.5 4.6l0.5-0.3l1.5 1.9l1-2.1l2.5 6.5l0.5-0.9l0.5 0.5l0.5-0.8l1.5 2.3l0.5-1.4l0.5 1.9l0.5-0.8l1.5 3.5l0.5-0.2l1 0.9l1-0.4l1 0.3l1.5 3.3l0.5-0.9l2.5-0.1l1 1.1l0.5 2.1l0.5-1.8l2 2.6l0.5-0.8l0.5 0.8l0.5-1.6l1 1.6l1.5 0.6l0.5 1.9l1.5-1l0.5 1.4l0.5-0.5l1 2.9l1 0.7l1-0.9l1 1.8l1-0.4l0.5 0.9l1-0.2l1.5 2l0.5-0.9l1.5 1.6l1 0l0.5 1.2l0.5-1.7l1 0.8l0.5-0.3l1.5 3.4l0.5-0.2l0.5-1.4l1-0.4l0.5 2.3l1.5 0.6l0.5-1.2l0.5 2.1l0.5-1.2l0.5 0.8l0.5-0.3l1 2.5l0.5-0.2l1 1l1-0.9l2 3.3l1.5-0.5l0.5 1.6l0.5-2.1l0.5 1.4l0.5-0.2l0.5 0.6l0.5-1l0.5 1.4l1-1.2l2 1.5l0.5-0.4l0.5 1.7l2 1.2l0.5 1.1l0.5-0.6l0.5 0.2l0.5-0.7l0.5 1.1l0.5-0.2l1 2l0.5 0.3l0.5-0.7l2 3.6l1.5-1.3l0.5 1.6l1-1.3l0.5 1.3l1 0.2l1 1.1l0.5-1.9l0.5 1.4l0.5-0.4l0.5 0.7l0.5-0.4l0.5 1.2l0.5-0.8l1 4.1l0.5-1.3l0.5 0.6l0.5-1.4l0.5 1.3l0.5-0.3l0.5 0.6l0.5-0.1l1.5 3l0.5-1.5l1 1.5l0.5-1.4l0.5 1.7l1-1.3l0.5 0.1l1 2.7l1 1.3l0.5-0.7l1 1.8l1.5-1.1l0.5-1.3l0.5-0.1l1 3.4l0.5-0.2l0.5 1.6l1-1.8l1.5 2.7l0.5-1.6l0.5 0.9l0.5-0.2l1.5 3.5l0.5-0.4l1 0.5l0.5 1.9l0.5-0.1l1 1.5l2-1.4l0.5-1l0.5 0.3l1.5-0.6l0.5 1.7l0.5-0.2l1 0.8l1-0.9l0.5 0.6l1.5 0.2l0.5 3.3l1-0.1l1-1.9l0.5 2.2l0.5-2l0.5 1.2l1 0.5l0.5 1.6l0.5-1.1l0.5 0.5l0.5-0.6l2 5.1l1 0.5l0.5-2.7l1.5 2.8l0.5 0l2 4.5l0.5 0.5l0.5-1.3l1.5 3.5l1 4.8l0.5-0.9l0.5 1l1 0.6l1-0.7l2 8.5l1-1.8l0.5 3.6l0.5-1.1l0.5 1.2l0.5-0.9l0.5 0l0.5-1.5l0.5 3.1l0.5-0.6l1.5 5.2l0.5-1.5l0.5 3.1l0.5-3.8l1 1l1 2.3l0.5-7.3l1 5.4l1 1.9l0.5 4.6l0.5-4.1l1-1.4l0.5-2.1l1 0.4l0.5 1.3l0.5-4l0.5 4.8l1-2.1l0.5-0.3l0.5 3.1l0.5-3.7l1-1.5l0.5 3.2l0.5-0.9l0.5 2.5l0.5-0.2l0.5-1.5l0.5 0.4l0.5-2.5l0.5 1.2l0.5-0.6l1 1.9l0.5-3.2l0.5 1.3l0.5-0.4l0.5 0.2l0.5 1.7l1-3l0.5 1l1 0.4l0.5-3.6l0.5 0.2l0.5 2.7l0.5-0.1l0.5-1.3l2-1.9l1.5-3.6l1 1.3l0.5 0l1-2.5l0.5 1.6l1.5 1.4l0.5 0l0.5-0.7l0.5 2l1.5 2l0.5-1.4l0.5 0.9l0.5-0.4l2-4.9l0.5 4.4l0.5-0.9l0.5 3.8l0.5-1.8l1.5 2.1l0.5-3.2l1 5.6l0.5-2.2l1 7l0.5-2.2l0.5 1.7l0.5-1l0.5 0.9l1 3.9l0.5 5.6l1-6.3l0.5 2.1l0.5-0.1l0.5 4.8l0.5-4.5l1 2.7l1-2.9l2 12.6l0.5-3.6l0.5 6.6l0.5-4.2l0.5 2.2l0.5-2.5l0.5 4l1-2.7l0.5 2.2l0.5-7.9l1 7.5l0.5 1.1l0.5-0.3l0.5 1.3l0.5-4.6l0.5 3.5l0.5-0.3l0.5 0.6l0.5 4.8l1-7.8l1 10.6l0.5-5.9l0.5 4.8l0.5-4.6l0.5 9.9l0.5-3.8l1-2.1l0.5 2.6l1.5-5.7l0.5 9.5l0.5-0.3l0.5 5.8l0.5-5.5l0.5 0.4l0.5 8.1l0.5-5.1l0.5 3.7l0.5-5.3l1-1l0.5 2.4l0.5-5.1l0.5 1.3l1 11.4l1 3.5l0.5-11.6l0.5 0.2l0.5-4.2l0.5 1.7l0.5-0.5l1 16.8l0.5-8.6l0.5 7.3l1-6.4l0.5 9.9l0.5-7.6l1 8.1l1-8l0.5 10.7l0.5-12.7l0.5 5l0.5-6.7l0.5 4.5l1.5 0.1l0.5 8.4l1.5-13.6l0.5 11.5l0.5-6.6l0.5 14l0.5-4.9l0.5 5.8l1-10.4l0.5-0.1l0.5 3.4l0.5-3.6l0.5 0.3l0.5 5.2l0.5-10.7l0.5 0.1l0.5 2.8l0.5-1.4l0.5 3.8l0.5-6.1l1 8.6l1.5-10.4l0.5 9.9l0.5 0.7l1-13.6l0.5 1l0.5-2.6l0.5 1.6l0.5 9.2l0.5-1.6l0.5 5.4l0.5-7.6l1-3.6l0.5 9.6l1.5-9.1l0.5 6.8l0.5-8.1l0.5 3.8l0.5 0.1l0.5-8.3l0.5 1.8l0.5-6.4l1 7.5l1-5.8l0.5 10.1l1-12.9l1 12l1.5-9.7l0.5 6.1l0.5-5.2l0.5 0.8l0.5 6.2l0.5-3.4l0.5 2.4l0.5-1.2l0.5-4.6l1 5.6l0.5-5.6l0.5 2.1l1-1.8l0.5-2.2l1-1.4l0.5 4.2l0.5-3.3l0.5 5.5l0.5-3.5l1-2.5l1 0l0.5 5.3l0.5-3.5l1 5.2l0.5-7.1l0.5 6.3l0.5-4l0.5 7.2l0.5-4.8l0.5 0.4l0.5-1l0.5-2.9l0.5 3.7l0.5-3.4l0.5 17.7l0.5-13.8l0.5 10.3l1-11.8l1 14.2l0.5-0.5l0.5-14.4l1.5 9l0.5-6.6l0.5 10.8l0.5-3l1-0.5l0.5 3.1l1-1.6l0.5 0.3l0.5-0.7l0.5 12.3l0.5 3l1-13.3l0.5 6.2l0.5-5l0.5-0.5l0.5 4.9l0.5-4.7l0.5 0.1l0.5 5.5l0.5 0.8l0.5 0l0.5 1.7l0.5 10.9l0.5-18.4l0.5 13.5l0.5-6.6l1.5-2.7l0.5 11.2l0.5-6.8l0.5-2.1l0.5 5.1l0.5-0.2l0.5-9.1l0.5 4.1l0.5-6l1 9.8l0.5-6.8l0.5 1.3l0.5-2.1l0.5 1.9l0.5 7.5l0.5 71.3l0.5 0l0.5-82.5l0.5 82.5l0.5 0l0.5-80.7l0.5 80.7l2.5 0l0.5-86l0.5 7.3l0.5-1l0.5 79.7l0.5-83l0.5-5.2l0.5 88.2l0.5 0l0.5-84.8l0.5-4.2l0.5 1.9l0.5-0.8l1 5.8l0.5-5.8l0.5-0.5l0.5 10.4l0.5-7.4l0.5 4l0.5 81.4l0.5-85.3l0.5 9.7l0.5-5.1l0.5 1.3l1-0.2l0.5-6l0.5 1.1l0.5 84.5l0.5-88.6l1 6l0.5-5.5l0.5 6.8l0.5 0.5l0.5 11.9l0.5-11.2l0.5 6.6l0.5 73.5l0.5-75.2l0.5-14.4l1.5 5.5l1-2.4l0.5 2l1-3.7l0.5 88.2l0.5 0l0.5-87.7l0.5 9.3l0.5 0.6l0.5-4.5l0.5 82.3l0.5 0l0.5-75.8l0.5 75.8l0.5-71.2l1.5-10.2l1 4.3l0.5 77.1l0.5-77.7l0.5 77.7l0.5-64.9l0.5-13.4l0.5 5.5l0.5-14.5l0.5 13.3l0.5 74l0.5-82.4l0.5 8.6l0.5-3.9l0.5 4l0.5-9.4l0.5-1.3l0.5 1.3l0.5-1.5l0.5 8.5l0.5-0.7l0.5 7.8l0.5 69l0.5 0l0.5-78.4l0.5 3.2l0.5 75.2l0.5-78.5l0.5 12.5l0.5-9.5l0.5 75.5l0.5-73.4l0.5 2.8l0.5-7.6l0.5 10.2l0.5 0.2l1-6.3l0.5 11.3l0.5 62.8l0.5 0l0.5-79.7l0.5 12l0.5-8.2l0.5 9.1l1.5-15.8l0.5-1.1l1 4.9l1-3.8l0.5 82.6l0.5-79.2l0.5 12.1l0.5 67.1l1 0l0.5-71.5l0.5-11.5l0.5 12.1l0.5-11.1l0.5 82l0.5-81.1l0.5 10.9l0.5-8.5l0.5 1.5l0.5 77.2l0.5-71.9l0.5 2.6l0.5 69.3l1 0l0.5-84.2l0.5 84.2l0.5 0l0.5-69.5l0.5-11.6l1 1.5l0.5 10.2l0.5-9l0.5 78.4l1 0l0.5-81.7l0.5 81.7l0.5-82.1l0.5 82.1l0.5-78.6l0.5 1.9l0.5-4.2l0.5 7.3l0.5-4.3l0.5 4.7l0.5-3.7l0.5 12.9l1-7.8l0.5 9.9l0.5 61.9l0.5-80.5l0.5 12l0.5-11.8l0.5 80.3l0.5-71.6l0.5-9.5l0.5 14l1-14.7l0.5 3.4l0.5-1.7l1 5.9l0.5 10.1l1-12.7l0.5 3.6l0.5 73.2l0.5 0l0.5-67.3l0.5-8.1l0.5 8.7l0.5-8.5l1 15.7l0.5-14.2l0.5 73.7l0.5-79.8l0.5 14l0.5 2.5l0.5 63.3l0.5-75.2"/>
<path class="cv" stroke="#808000" d="M285 985l1-70.9l0.5 5.6l1-9.3l1 74.6l0.5-63.8l0.5-0.1l1 9.4l0.5-12.4l0.5 2.3l1.5-5.6l1 3.6l0.5 9.9l1-9.7l0.5 9.1l0.5-15.3l0.5 3.9l0.5-4.1l0.5 12.4l0.5-11.1l1 5.1l0.5-5.8l0.5 5.2l0.5-1.8l0.5 1.9l0.5 5.4l0.5-5.9l0.5-1.4l0.5 7.3l0.5-9l0.5-0.5l0.5 5l0.5-5l1 16.4l0.5 0.3l1-15.1l1 7.5l0.5-3.4l0.5 0.8l0.5 64.5l0.5-78.2l0.5 13.9l0.5-12.6l1 13.1l0.5-8l0.5 17.7l0.5-11.8l0.5 4.4l0.5-11.3l0.5-0.4l0.5 14.2l0.5-13.5l0.5 8.3l0.5-10.6l0.5-0.5l0.5 2.8l0.5 14l0.5-11.4l1-5.7l0.5 1.9l0.5 73.7l0.5-66.2l0.5-4.2l0.5 1.1l0.5-0.2l0.5 8.3l0.5-12.5l0.5-2.6l0.5 18.5l0.5-3.5l0.5 61.3l0.5-75.2l0.5 4.6l0.5 70.6l0.5-65.2l0.5-10.9l0.5 76.1l0.5-58.3l1-13.8l0.5-1.4l0.5 15.9l0.5-10.2l1 14.8l0.5 53l1-73.2l1 8.2l0.5-5.7l0.5 0.5l0.5 7.7l0.5-1.3l0.5 63.8l0.5-78.4l1 16.6l0.5-13.8l0.5 13.1l0.5-13.3l0.5 7.3l0.5-6.2l0.5 6.1l1-7.3l0.5-0.7l0.5 76.6l0.5-62.1l0.5-7.1l1-3.8l1 15.2l0.5-19l1 5.8l0.5-5.6l0.5 7.9l0.5-1.6l0.5 3.9l0.5-8.3l0.5 12.8l0.5-17.9l0.5 10.9l0.5-8.6l1 17.2l0.5-14.2l0.5 1.1l0.5 4.9l1-15.1l2 11.1l0.5 15.1l1-21.7l0.5 11.6l1-8l0.5 8.2l0.5-8.2l0.5-0.8l0.5 10.4l0.5-7.7l0.5-1.8l0.5 13.8l0.5 61.6l0.5-69.6l0.5 0.4l0.5-5.5l0.5-1l0.5 3.1l1-5.9l0.5 7.1l0.5-5.7l0.5 3.1l0.5-2.8l0.5 14.6l0.5-14.5l0.5 7.3l0.5 1.5l0.5-5.2l0.5 73.1l0.5-73.7l0.5-7l0.5 15.7l0.5 65l0.5-79.8l1 11.6l1 1.1l0.5-4l0.5 4.9l0.5-1.8l0.5 5.3l0.5-19.1l0.5 9.5l1-12.6l1 23.4l1-19l0.5 15.8l0.5-9.5l1-5l1.5 8.9l0.5-4l0.5 11.9l0.5-13.8l0.5-0.2l0.5-2.5l0.5 9.6l0.5-10.2l1 15.5l1-13l0.5 0.3l0.5 3.7l0.5-4.3l1 2l0.5 7l0.5-2.9l0.5-11.9l0.5 5.6l0.5-4.8l0.5 5.3l1-7.4l0.5 3.4l0.5-3.5l0.5 10.8l0.5-8.2l0.5 81.9l0.5-82.1l0.5 0.8l1 9.1l0.5-7.1l0.5 9.3l0.5-15.7l0.5 16.9l1-16.2l0.5 13.8l1-9.5l0.5-0.9l0.5 3.4l0.5-5.5l0.5 11.3l1-8.1l1 6.9l1-4.6l0.5 5l0.5 73.2l0.5-71.9l0.5-6.8l0.5 78.7l0.5-64.4l1-16.2l0.5 7.5l0.5-0.7l0.5 4.7l1-12.1l0.5 9l0.5-8.5l0.5 1.9l0.5-11.5l0.5 10.2l0.5-1.3l0.5 81.4l0.5 0l0.5-83.2l0.5 0l0.5 6l0.5-9.8l0.5 2.1l0.5-4.6l0.5 11.1l0.5-9.9l0.5 6l0.5 82.3l0.5-82.5l0.5-10.1l1 7.9l1-6.6l0.5 9.4l0.5 81.9l0.5-83.7l0.5 3.4l1-8l0.5 0.9l0.5 87.4l0.5-88.5l0.5-0.6l0.5 89.1l0.5-87.1l0.5 14.7l0.5-17.2l0.5 3.5l0.5-3.9l0.5-0.9l0.5 6.6l0.5-6.4l0.5 7l0.5-7.8l0.5 91.5l0.5 0l0.5-93.7l0.5-2.4l0.5 96.1l1 0l0.5-95.9l0.5 2.1l0.5 93.8l0.5-79.5l0.5-0.6l1-15.2l1 6.4l0.5-7.4l0.5-0.6l1 2.7l0.5 9.5l0.5-6.7l0.5-3.4l0.5-1.5l0.5 0l0.5-6.5l0.5 9.9l0.5-11.6l1 3.7l0.5-0.9l1 0.4l0.5-1.2l0.5 6l0.5 0.7l0.5-3.4l0.5 1.3l0.5 5.6l0.5-8.1l1.5 9.2l0.5-10.5l0.5 0.4l0.5 10.8l0.5-7.1l0.5 0.3l0.5 4l0.5-8.4l0.5 7.7l1-14.3l0.5 12.9l0.5-5.1l0.5-0.1l0.5 6.9l0.5-4.1l0.5 1.1l0.5-7.8l0.5-1.4l0.5 1.4l0.5-9l0.5 2l0.5-0.5l1 12.6l0.5-2.5l1 2.9l0.5-8.3l0.5-1.9l0.5 3l0.5-6.5l1.5 11.5l0.5-8l0.5-0.7l0.5-4.1l0.5 4.7l0.5-7.2l0.5-0.2l1 8.3l0.5-0.6l0.5 2l0.5-6.1l1 3.4l0.5-3.1l0.5 4.2l1-5.1l0.5 4.4l0.5-4.9l0.5 1.1l1-3.7l0.5 5.5l1-7l0.5 4.3l0.5-2.4l0.5 1.3l0.5-0.1l1 7.4l0.5-9l0.5-1.9l0.5 3.1l0.5-5.2l1 3.9l0.5 0.3l0.5-0.1l0.5-3.3l0.5 2.1l0.5-1.7l1 0.5l0.5 1.9l0.5-1.8l0.5 2.9l1-3.7l0.5 1.2l0.5 5.7l1-8.8l0.5 2.6l0.5 0.1l0.5-3.1l0.5 1.5l1.5-4.9l1 3.7l0.5-2.6l0.5 2.9l1.5-3.3l0.5 1.5l0.5-2.4l1 3l0.5 0.1l0.5-3l0.5 1.3l0.5-0.6l0.5 2.8l1-7.8l0.5 2.4l1 1.5l0.5-1.6l0.5 1.6l0.5-4.4l0.5-1.2l0.5 1.5l0.5-2.1l0.5 1.5l0.5 0.1l0.5 3.8l0.5-4.1l0.5 1.3l0.5-2.6l1 0.7l1-4.2l0.5-0.3l1.5 3.2l0.5-1.5l2-0.4l0.5 2l1.5-10.8l0.5 4.6l0.5-4.7l0.5 3.3l0.5-3.2l1 4l0.5-0.5l0.5 0.6l1-3.8l0.5 0.3l0.5-5.4l0.5 0.3l0.5-0.7l1 1.9l0.5-1l0.5 1l1-0.4l1 3.7l1-6.4l0.5 2.3l1-2.8l1 2.1l0.5-1.7l0.5 0.1l2-6.3l0.5 4.1l0.5-1.4l1.5-0.7l2-3.1l0.5 1l0.5-2.9l0.5 2l1-3.4l0.5 0.1l0.5-0.8l1 3.1l1-2.4l0.5 1.1l0.5-0.5l0.5-2.7l0.5 1.1l0.5-2.9l0.5 0.3l0.5-0.9l0.5 1.1l0.5-0.8l1 1.5l1-3.3l2.5 1.5l0.5-1.7l1-0.7l2-5l0.5 1.8l0.5-1.9l0.5 2.3l0.5-3.5l0.5 0.5l0.5-2.8l0.5 0.1l0.5-2l1 0.4l0.5 1.7l0.5-0.8l0.5 0.7l0.5-1.7l0.5 0.7l0.5-2.7l1-0.4l1-2.2l0.5 2.2l0.5 0.2l0.5-0.2l0.5-1.8l1.5-1.2l1.5 2.4l2-5.5l1.5-1.5l0.5 1.8l0.5-1.2l1.5-0.4l1-2.8l1-0.6l1-2.3l0.5 0.1l0.5 1.6l1-3l0.5 1l2-4.3l1-0.7l0.5-1l0.5 1.4l0.5-0.9l0.5 0.1l0.5-0.5l0.5 0.4l0.5-1.5l1 1.1l1-3l0.5 0l1-1.6l1-0.4l1.5-2.9l0.5 0.9l0.5-1.9l0.5 0.8l0.5-0.3l0.5-1.6l0.5 0.5l1-2.3l1.5-1.4l1.5-0.4l1 1l0.5-0.5l1.5-5l1-1.9l0.5-0.1l0.5 1.2l2.5-3.3l0.5-0.1l0.5 0.9l1.5-4.1l0.5 0.4l0.5-1.3l0.5 0.1l0.5-1.5l0.5 0.7l1.5-2.2l0.5 0.9l0.5-0.2l2-3.6l1-0.3l1-1.5l0.5-1.7l0.5 0.1l2-1.9l0.5 0.4l0.5-2l0.5 0.5l1.5-3l2.5-1.5l0.5-1.2l1-0.5l0.5-1.4l0.5 0.8l2.5-6.5l1 0.8l5-4.6l0.5 0.5l2.5-5.5l0.5 0.4l2.5-4.2l2.5-1.7l0.5 0.4l2-3.8l0.5 0.1l0.5-1l0.5 0.5l3-6.2l1-0.3l0.5-1.2l1.5-0.9l2-3.3l1.5-0.5l1-2.1l0.5 0l0.5-1.7l0.5 0.3l1-1.7l0.5 0.4l0.5-1.5l1.5-1.3l2-3.9l1.5-1.5l1 0.5l2.5-4.3l1.5-0.5l1-2.5l1-0.7l1.5-3.1l1.5-0.8l0.5-1l2.5-2.1l4-6.2l0.5-1.5l1.5-0.6l1-1.7l0.5 0.4l4-7.2l1-0.4l4-5.2l1.5-1.3l4.5-7.7l2.5-2.5l3-5.5l0.5 0.2l5.5-11.6l4-5l3-6.3l2.5-2.6l7.5-13.8l2-2.3l3-5l4-4.4l1.5-3.3l5-7.5l1-2.9l2-2.8l4-7.6l10.5-28.9l16-57.1l2-8.7l1.5-9.4l3.5-41.7l2-18l3.5-18.5l6.5-24.9l4.5-25.7l5-35.3l9-87.7l1.5-9.4l2.5-11.1l2-4.5l2 2.7l1.5 4.2l5 19.9l5 23.9l6.5 43l9 74.3l8 46.1l10 45.9l8 28.4l4 11.3l3 6.6l7.5 21.7l2.5 6.1l3.5 12.5l3.5 10.6l9 24.1l7.5 17l3 4.2l2 5.4l4.5 8.7l1 1l1 2.6l2.5 3.7l2.5 5.8l3.5 4.9l1 2.8l2.5 3.5l2.5 5.1l2.5 2.8l0.5 1.7l1 0.7l1.5 3.7l1.5 2.2l2 1.7l2 3.4l0.5-0.1l3.5 5.7l0.5-0.3l1 1.7l1 0.6l0.5 2.4l3 1.9l1.5 2l1.5 0.7l1.5 2.7l1.5 0.5l1.5 1.3l1 2.5l1.5 0l1.5 1.9l0.5 0.5l0.5-0.2l3 4.8l1 0.7l0.5-0.6l1 1.4l1 0.2l0.5 0.6l1-0.2l3 4.6l0.5-0.7l1.5 0.8l2 2.1l2 0.4l1 0.8l1.5 3l2 2.1l1 0.3l0.5 1l0.5-0.3l1.5 1l2 2.6l2 0.8l1 2.5l1.5 0.1l0.5 1.4l1.5 0.5l1 1.5l1-0.8l1 0.9l1 2l1 0.9l0.5 2.2l2 0.5l0.5 1.6l1.5 2.1l1 0.5l4 4.8l1-0.1l1 0.6l2 4.3l1 0.9l1.5-0.3l1.5 4.6l2 2.7l0.5-0.5l1 2l0.5-0.3l0.5 1l1 0.3l0.5 2.5l0.5-0.1l1 1.4l0.5-0.3l2.5 3.6l0.5 1.6l0.5-0.2l0.5 0.7l0.5-0.2l1.5 2.3l0.5-0.7l1.5 0.5l1.5 3.5l0.5-0.3l2 3.6l0.5-0.5l0.5 0.5l0.5-0.4l1 2.6l1 0.2l0.5-1.2l0.5-0.5l0.5 0.3l2 5.1l0.5-0.4l2 0.6l0.5 1.1l0.5-1.3l2.5 2.6l0.5-0.4l0.5 1l1-0.5l2 3.8l1 1l0.5-0.3l0.5 1.2l0.5-0.1l1.5 2l1-1.8l1 1.1l0.5-0.2l1.5 0.7l0.5 2.2l0.5-1.6l1 0.7l0.5 1l0.5-1l0.5 1.7l0.5-0.6l1 2.2l1.5-1.1l0.5 0.3l0.5-0.7l0.5 1.5l0.5-1.7l0.5 1.8l1.5 1l1-2l1.5 1.8l2 4.4l0.5-0.6l0.5 0.6l0.5-0.2l0.5-1l0.5 1.1l0.5-1.1l1.5 2.1l0.5 0l1 1.2l1-1.5l1 1l0.5-0.8l0.5 2.3l0.5-0.3l0.5 0.5l0.5-0.2l0.5-1.5l0.5 1l0.5 0l0.5-0.8l0.5 2.2l0.5-0.9l1 3.2l0.5-0.2l1 1.9l0.5 0.5l0.5-0.2l0.5 1.1l0.5-0.9l0.5 1.6l0.5-0.1l0.5 2.3l1.5 0.3l1-0.3l0.5 1l0.5-1.8l1 3.2l0.5-1.2l0.5 2.2l1-0.7l0.5-1l0.5 1.5l1.5-0.4l1 0.7l0.5 1.9l1.5 1.5l1-1.5l0.5 0.9l0.5-0.1l0.5 2.3l1-1.2l2 1.4l1-1.7l1 3.3l0.5-0.6l1 1.7l0.5-0.1l0.5-0.8l0.5 2.4l1 1.2l0.5-0.3l0.5 0.7l0.5-0.8l0.5 0.9l0.5-0.8l1.5 2.1l0.5-0.1l0.5 1.3l1.5-0.9l0.5 2.3l0.5-1.3l0.5 0l1.5-1.2l2 2l1 0.1l0.5-1.3l0.5 0.4l0.5-0.6l2 4.7l1.5-0.9l0.5 1.4l0.5 0.1l1-1.7l0.5 1.5l0.5-1.4l2 5.5l0.5-1.5l0.5 1.3l0.5 0.2l0.5-0.7l1 2.4l0.5-0.5l0.5 0.4l0.5 1.8l0.5-2.6l1 3l0.5-0.6l0.5 1.1l0.5-1.3l1 1.6l0.5-0.9l0.5 1.8l0.5-1.4l0.5 0.7l0.5 3.4l0.5-0.7l1 0.3l1-2l1.5 5.5l0.5-2.2l0.5 2.7l0.5-1.2l0.5 0.8l0.5-0.8l0.5-0.1l1.5 3.9l1-1l1-2.7l0.5-0.3l1.5 2.1l0.5 1.9l0.5-3l2.5 8.7l1-2.4l0.5 2.2l0.5-0.1l0.5 1l0.5-1.8l0.5 0.4l0.5 3.1l0.5-2l1 3.4l0.5-1.1l1 2l1-1.5l0.5 1.4l0.5-0.8l0.5 0l1.5 3.6l0.5-0.8l1 5.5l1 0.4l0.5 1l1.5-3.1l0.5 0.6l1 0l2 4.8l0.5-1.1l0.5 1.4l0.5-0.6l1 0.4l0.5-2.7l0.5 0.9l1 0l0.5 1l0.5-4.7l1 4.1l0.5-1.2l0.5 1.4l0.5 0.2l0.5-0.6l1 4.3l1-0.3l0.5-1.5l0.5 0.2l1.5 5.6l0.5-1.8l0.5 3.3l0.5-2l0.5 0.7l1-5.8l0.5 4.1l0.5-1.5l0.5 1.4l1-3.2l0.5-0.2l0.5 2l0.5 0.4l0.5-0.2l1 5.3l0.5 0.4l0.5-1.5l0.5 2.9l0.5-1.9l0.5 1.3l0.5-1.7l1 2.7l0.5-1.2l1.5 0.9l1.5-1.8l0.5-2l0.5 0.1l1 3l0.5-1.2l1 3.9l0.5-0.1l0.5-2.4l0.5-0.3l0.5 2.8l0.5-0.3l0.5-2l1 4l0.5 0.3l0.5-2.6l0.5 0.4l0.5-2.9l1-1.3l1 4.9l1.5-6.1l0.5-0.1l1 2l1.5-2.1l0.5 0.1l1 2.9l1.5-1.4l1 2.9l1-2.4l0.5-0.1l0.5-2.2l1 3.7l0.5-0.3l2 5.2l0.5-3l1 2.6l0.5-0.2l0.5 4.4l1-2.5l0.5 2l0.5-1.6l0.5 1.9l0.5-0.3l0.5 2.6l0.5-0.3l0.5 1.4l0.5-3.6l0.5 4l0.5-3.2l0.5 0.2l0.5 2.7l1-1.3l0.5 2.4l0.5-0.9l0.5 6.4l0.5-2.7l0.5 9.5l1-5.8l0.5 5.5l1-6l0.5 6.6l1-3l0.5-6.1l0.5-0.6l1 10.7l0.5 0.4l1-0.6l0.5-1.7l1 2.1l1.5 9.6l0.5-5.5l0.5 9.5l1-7.3l0.5 6.4l1-10.7l0.5 12.2l1-11.8l1.5 15l0.5-10.4l0.5 1.6l2.5 19.7l0.5-10l0.5-0.1l0.5 0.6l0.5-7.3l1 11.7l0.5-8.6l1-1.7l0.5 14.4l0.5 2.9l1-15.3l0.5 8.4l0.5-3.9l0.5 1.9l0.5 14.5l1-22.9l0.5 18.5l0.5 0.5l0.5-0.1l0.5-18l1.5 30.4l1-27.3l0.5 0.7l0.5 18l0.5 1.4l0.5-20.8l0.5-2.3l0.5 28.8l1-24.6l1 10.7l0.5-15.5l0.5 12.7l1-19.2l1 19.4l0.5-10.3l0.5-2.1l0.5 11l0.5-9.1l0.5 17.3l1-13.3l0.5 1.5l0.5 11.4l0.5-16.6l0.5 17.6l0.5 4.3l0.5-23l1-8.8l0.5 22.5l0.5-2.3l1-20.2l0.5 12l0.5 4.6l0.5 0.6l0.5 2.7l0.5 0.6l0.5-12.6l0.5 19.2l0.5-26.8l0.5 3.4l0.5 23.1l0.5-9.7l0.5 7.1l0.5-23.6l0.5 3.8l0.5 26.3l0.5-29.5l0.5 0.2l0.5 11.5l0.5-3.3l0.5-0.4l1 13.3l0.5-15.9l1-9.6l0.5 16.6l1-12.4l0.5 19.1l0.5-18.8l0.5 20.2l1-18.9l0.5 14.3l0.5-19.5l0.5 13.5l0.5-7.5l0.5 11.4l1-15.4l0.5 2.9l0.5 14.5l1-21.8l0.5 25.4l1-22.2l1 16.6l0.5-9.6l0.5 8.4l0.5-8.5l1 12.3l0.5-11.7l0.5-2.5l0.5 15.5l0.5-11.5l0.5 16.6l0.5 1.7l0.5-18.2l0.5 18.5l0.5-26.8l0.5-2.8l0.5 20.2l0.5-7.4l0.5 13.9l0.5-16l2 18.8l0.5-14.3l1 1.9l1-18.4l1 17.1l0.5-7l0.5 21.5l0.5 2.9l0.5-2.2l0.5 5l0.5-25.1l0.5 3.5l0.5-5.3l0.5 24.7l0.5-20.5l0.5 19.6l0.5-20.5l0.5 24.3l0.5-16.7l0.5 11.7l1-17.6l0.5 24.1l0.5-19.8l1 16.7l0.5-20.5l0.5 19.4l0.5 2l1-30.7l0.5 2.3l0.5 91.3l0.5-74.3l1-17l0.5 91.3l3.5 0l0.5-59.1l0.5 59.1l0.5 0l1-87.1l0.5 87.1l0.5 0l0.5-85.2l0.5 8.8l0.5-9.4l0.5 9.5l0.5 76.3l0.5-75.8l0.5 5.2l0.5 70.6l2.5 0l0.5-63.2l0.5-9.8l0.5 5.7l0.5 67.3l0.5-83l0.5 8.8l0.5-10.4l0.5 19.4l0.5-11.6l0.5 76.8l0.5-56.4l0.5 56.4l0.5-72.5l1 16.8l0.5-14.7l1-4.2l1-10.8l0.5 3.3l0.5 82.1l0.5-57.8l0.5 57.8l0.5 0l0.5-68.1l0.5 18.3l0.5-29.9l0.5 79.7l0.5-80.2l0.5 80.2l0.5-82.8l0.5 82.8l1 0l0.5-77.6l0.5 77.6l0.5 0l0.5-46.5l0.5 46.5l0.5-84.4l0.5 84.4l1-80l0.5 80l0.5-74.4l0.5 24.4l1.5-32.9l0.5 12l0.5 70.9l0.5-52.8l0.5 52.8l0.5-69.4l1-15.9l0.5 4.8l0.5 80.5l0.5 0l0.5-79.5l1 79.5l0.5-87.5l1.5 31l0.5-11.3l0.5 67.8l2 0l0.5-60.3l0.5-9.7l1 11l0.5 59l0.5 0l1-80.5l1 29.4l0.5 51.1l0.5-70.4l0.5 70.4l0.5 0l0.5-83.1l0.5 83.1l0.5-77.7l0.5 77.7l1 0l0.5-61.9l0.5 61.9l0.5-63.6l0.5 6.1l0.5 57.5l0.5-69l0.5 69l0.5-61.9l0.5 61.9l0.5-65.4l0.5 16.8l0.5-15l0.5 63.6l0.5-78.4l1-4.6l0.5 14.5l0.5 68.5l1 0l0.5-72.4l0.5 72.4l1.5 0l0.5-74.2l0.5-4.8l0.5 6l0.5 29.3l0.5-28.9l0.5-2.7l0.5 8.5l0.5 21l0.5-31l0.5 1.9l0.5-5.8l0.5 80.7l0.5-75.4l0.5 75.4l1-69.5l0.5 0.2l0.5-17.8l0.5 16.9l0.5-8.7l1 78.9l0.5 0l0.5-84l0.5 34.6l0.5-25.6l0.5 11.3l0.5 2l0.5-6.4l0.5 68.1l1 0l0.5-58.6l0.5 58.6l1 0l1-67.6l1 25.6l0.5-28.3l0.5 3l0.5-13.5l0.5 80.8l0.5-72.6l0.5 5.2l0.5 67.4l0.5-64.1l0.5 6.9l0.5 0.3"/>
<path class="cv" stroke="#000080" d="M285 925.6l1-5.4l0.5 64.8l0.5-60.3l1-6.3l0.5 66.6l0.5 0l0.5-66.7l0.5 3.1l0.5-2.6l0.5 66.2l0.5 0l0.5-71.7l1 4.5l0.5-3l1 1.4l0.5 68.8l1.5 0l0.5-72.3l0.5 72.3l0.5 0l0.5-70.5l0.5 2.9l0.5 67.6l0.5 0l0.5-66.7l0.5 66.7l0.5-70.3l0.5 70.3l0.5-66.1l0.5 0.4l0.5-2.7l0.5 68.4l1 0l0.5-66.2l0.5 66.2l0.5-70.3l0.5 5.1l0.5 65.2l0.5 0l0.5-65l0.5 0.2l0.5 2.1l0.5 62.7l1 0l0.5-65l0.5-1.5l0.5 66.5l0.5-62.1l0.5-3.7l0.5 65.8l0.5 0l0.5-68l0.5-2.8l0.5 70.8l0.5-70.4l0.5 70.4l1 0l0.5-69.8l0.5 4.8l0.5-1.8l0.5 4.1l0.5 62.7l1.5 0l0.5-72.1l0.5 72.1l0.5-71.3l0.5 71.3l1.5 0l0.5-69l0.5 0.8l0.5-2.7l0.5 70.9l0.5-71.9l0.5-1.7l0.5 73.6l0.5 0l0.5-72.6l0.5-4.4l1 3.7l0.5 73.3l1 0l0.5-77l0.5 77l1 0l0.5-71.6l0.5 71.6l0.5-72.3l0.5-4.4l0.5 2.8l0.5 73.9l1 0l0.5-71l0.5 71l0.5-73.7l0.5 3.2l0.5 70.5l0.5 0l0.5-68.4l0.5 0.6l0.5 67.8l0.5 0l0.5-66.8l0.5 66.8l0.5-67.9l0.5 67.9l0.5-64.7l0.5 64.7l0.5-70.2l0.5 0.5l0.5 69.7l0.5-63.2l0.5 63.2l0.5-64.5l0.5-3.8l0.5 68.3l0.5-66.6l0.5-1.6l0.5 0.9l0.5 67.3l0.5-65.6l0.5 65.6l0.5 0l0.5-71l0.5-0.6l0.5-3.7l0.5 2.3l0.5-2.4l0.5 0.3l0.5-1.9l0.5 2.3l0.5 74.7l0.5-74.7l0.5 0.3l0.5 1.6l0.5-2.1l0.5 0.7l0.5 74.2l0.5 0l0.5-74.2l0.5 74.2l0.5 0l0.5-76.8l0.5 76.8l0.5 0l0.5-76.7l0.5 1.3l0.5 75.4l1 0l0.5-80.4l0.5 80.4l1.5 0l0.5-76.9l0.5 76.9l0.5 0l0.5-79.2l0.5 79.2l0.5 0l0.5-77.3l0.5 77.3l0.5-74.4l0.5 74.4l0.5 0l0.5-72.9l0.5 72.9l0.5 0l0.5-76.6l0.5 76.6l0.5-74.7l0.5 74.7l1.5 0l0.5-79.9l0.5 0.8l0.5-1.2l0.5 7.2l0.5 73.1l0.5 0l0.5-78.7l0.5 78.7l0.5-76l0.5 76l0.5 0l0.5-79.1l0.5 79.1l0.5 0l0.5-71.2l0.5 71.2l0.5-72.9l0.5-0.3l0.5 2.5l0.5-0.4l0.5-5.6l0.5 76.7l0.5-71.4l0.5-4.6l0.5 76l0.5-76.8l0.5 76.8l1 0l0.5-78.7l0.5 78.7l0.5 0l0.5-80.7l0.5 5.6l0.5-3.2l0.5 78.3l0.5 0l0.5-88.4l0.5 88.4l0.5 0l0.5-89.9l1 4.6l0.5 85.3l0.5-85.1l0.5 85.1l0.5 0l0.5-77.8l0.5 3.6l0.5 74.2l0.5-71.6l0.5 71.6l0.5 0l0.5-68.9l0.5-0.6l0.5 69.5l0.5-72l1 1.9l0.5 70.1l0.5-71l0.5 71l0.5-67.8l0.5 67.8l0.5 0l0.5-68.9l0.5 68.9l0.5-70l0.5 70l0.5-70.3l0.5 70.3l3 0l0.5-72.6l0.5 72.6l0.5-71.2l0.5-5.6l0.5 2.1l0.5 74.7l0.5-72.8l0.5 72.8l0.5-72.3l1-7l0.5 79.3l0.5-76.4l0.5 3.2l0.5 73.2l1 0l0.5-79.1l0.5 0.1l0.5 79l0.5-79.1l1-2.3l0.5 2.5l0.5 78.9l0.5 0l0.5-76.7l0.5-4.9l0.5 81.6l0.5-78.4l0.5-2.4l0.5 1.4l0.5 79.4l0.5-79.5l0.5 1.8l0.5-3.6l0.5 81.3l0.5-81.2l0.5 1.6l0.5 79.6l0.5 0l0.5-81.7l0.5 2.2l1-2.8l0.5 82.3l0.5-85.5l0.5 10.6l0.5-2.9l0.5-1.3l0.5 0l0.5 8.1l0.5-8.9l0.5 0.1l0.5-15.6l0.5 20.9l0.5-6.8l0.5 17.2l1-17.8l1 25.3l0.5-9.1l0.5 1.1l0.5-27.9l1 26.2l0.5-4.2l1 12.9l0.5-27.1l0.5 11.2l1-21.6l0.5 10.1l0.5-3.3l0.5 2.9l0.5 0l0.5 0.9l0.5 34.1l1-25.5l0.5 21.8l0.5-26.7l0.5-4.7l0.5 3.8l0.5 81.7l0.5 0l0.5-73.5l0.5-17l1 20.3l1-21.5l0.5 31.6l1.5-30.7l0.5 8l0.5 0l0.5-7.5l0.5 20.3l0.5 4.1l0.5-20.8l0.5 86.7l0.5-88.3l0.5 2l0.5-4.8l0.5 4.7l0.5-5.8l0.5 7.9l1-8.2l0.5 4.5l0.5-0.7l0.5 0.9l0.5-1.8l0.5 9.1l0.5-10.1l1-0.7l0.5-7.1l0.5-0.2l0.5-2.5l0.5 14.2l1.5-7.7l0.5-6.2l0.5 6.9l1-8.1l0.5 15.3l1-15.4l0.5 1.6l0.5 6.6l0.5-1.3l0.5 1.5l0.5 7.4l0.5-7.6l0.5 4.7l0.5-3.8l0.5 4l0.5-12.2l0.5 0.5l0.5 11.4l1-18.7l0.5-0.1l0.5 8.4l0.5-4.7l0.5 3.9l0.5-1.8l0.5-6.5l0.5 12.2l1-8.8l0.5 6.4l0.5-7l0.5 13.4l2-15.7l0.5 1l1 15.8l1-11.5l0.5-0.2l0.5 1l0.5-4l0.5 4.2l1-10.1l0.5 9.6l0.5 1.4l0.5-0.6l0.5-3.8l1 4.7l0.5-3.8l1 8.2l1-7.6l1.5-4.1l0.5 1.1l0.5-6l0.5 2.7l0.5-1.2l0.5 1.1l0.5-1.8l0.5-6.9l1 10.8l0.5-0.7l1 0.1l0.5-6.6l1 6.7l0.5-7.3l1 5.2l0.5-3.7l0.5 5.7l1-5.3l0.5 1l0.5-0.2l0.5-2.5l0.5 6.7l2-9.5l0.5 3.6l0.5-0.3l1-8.3l1-3.6l0.5 6.1l0.5-6.8l0.5 7.5l0.5-7.4l1 3l0.5-3.2l0.5 7.8l0.5-0.5l0.5 3.5l0.5-1.6l0.5 0.7l1-7.9l0.5 2l0.5-7.9l1 4.7l1.5 2.8l1 3.2l1.5-4.2l1 3.5l0.5-6.5l0.5 0.6l0.5-0.8l1-7.4l1 1.8l1 0.5l0.5-1.1l0.5 3.9l0.5-0.8l1 2.7l1-3.6l0.5 0.4l1-6.2l0.5 4.7l1-8.1l0.5 2.1l2-6.5l1.5 9.2l0.5-1.5l0.5 0l2-9.2l0.5-0.1l0.5-1.7l1 4.6l0.5-3.7l1 3.8l0.5-6l0.5 6l0.5-4.6l0.5-1l0.5-0.1l0.5-3.1l1 3.9l1-2.9l0.5 5.2l0.5-1.5l0.5 0.8l0.5-3.2l0.5-0.3l1-7l1 0.8l1-0.4l0.5-2.3l1.5 7.5l0.5-4l0.5-1.9l0.5 0.5l1-4.5l0.5 5.1l0.5 0.6l1.5-3.8l1 0.3l0.5 1.1l0.5-2.5l1 3.6l0.5-2.6l0.5 0.3l2-7.4l1 0l0.5 3.2l1-4.1l1 1.8l0.5-2.5l0.5-0.5l0.5 0.8l1-2.9l1 4.6l1-4l0.5 0.3l1-2.7l0.5 1l1-1.3l1.5 0.9l0.5-0.5l0.5 0.2l1-1.3l0.5-2.8l0.5-0.1l0.5-1.5l0.5 2.3l0.5-2.6l0.5 0.3l0.5 2.6l1.5-3.5l1 2.7l0.5-0.2l2-7.1l1.5-1l1 0.7l0.5-1.5l0.5 1.8l1.5-4.2l1.5-1.3l0.5 0.5l0.5-0.5l2-5.6l1 2.3l0.5-0.5l0.5-3.1l1 1.9l1-3.1l1 0.1l0.5-1l0.5-2.5l0.5 2.4l1-1.3l0.5 0.3l1-1.1l0.5 1.7l1.5-4.1l1 1.3l0.5-1.1l0.5 0.1l0.5-2.9l0.5-0.4l0.5 0.6l0.5-1.7l1.5-0.6l0.5-2l1.5-2.5l0.5 0.7l0.5-0.3l1.5-4.4l0.5 3.5l0.5-3.6l0.5 0.7l1-0.2l1.5-3.9l0.5 0.9l1.5-3.7l0.5 0.3l1-1.5l0.5 1.5l1-1.5l0.5-3.3l1 3.3l0.5 0.1l1.5-2.3l2-6.1l0.5 0.6l1.5-2.7l0.5 1.4l0.5-0.2l3-5.9l0.5 1.6l1-1.4l0.5 0.6l1-2.9l1 1.8l0.5-0.5l0.5 3l0.5-3.2l4-7.8l0.5-0.1l0.5-1l2 0l0.5-1l0.5 1.2l0.5-0.9l1.5 0.1l2-5.6l0.5 1.6l0.5-1.7l1-0.4l0.5-2.3l0.5 1.1l1-2.2l0.5 1.3l0.5-2.1l1 0.2l2-4.7l1 0.8l2.5-1l0.5-1.9l0.5 1.1l5-7.6l0.5-0.5l1 0.3l0.5-0.4l1-2.5l2.5-2.9l0.5 0.2l1-1.6l1 1l1-1.7l1-3.3l0.5 0.1l0.5-1.2l0.5 0.6l1.5-0.5l0.5-1.3l1.5-1l1.5-3.6l1-1.2l0.5 0l0.5-1.4l0.5 0.7l2-3.4l2-2.2l0.5 0.1l1-2l0.5 0.2l0.5-1.7l1-0.1l1-1.6l2-1.6l1.5-3.1l1-0.5l0.5-1.6l1-0.3l1-2.9l2.5-2l0.5-1.6l1.5-1.6l1.5-3l0.5 0.8l1-1.7l0.5 0.5l1.5-5.3l1.5-0.2l0.5 0.4l2.5-7.4l3-2.8l1-2.3l0.5 0.7l0.5-1.9l0.5 0l1-2.7l1.5-1.1l3-5.5l0.5 0.4l0.5-0.9l0.5-1.7l0.5 0.8l0.5-2.4l0.5 0.3l0.5-0.7l3.5-7.3l1.5-2l0.5-0.1l0.5-2l3-4.6l0.5 0l1.5-4.4l1.5-2.6l0.5-0.2l2.5-4.4l1 0l2-4.8l2-2.2l2-3.9l1.5-1.7l0.5 0l1.5-3.7l2-2.3l1.5-4.2l0.5 0.1l1-1.8l2-5.3l1.5-2.3l1.5-1.3l3.5-10.1l1-1.7l0.5 0l5-15.1l16.5-63.1l2.5-13.6l1.5-10.3l4.5-45.9l2-14.7l10-47.4l7-44.7l9.5-97l3-14.2l1.5-3.2l1.5-1.4l1 0.8l2.5 6.3l5.5 17.1l8 39.5l13.5 104.4l15.5 84.7l3 14.7l4.5 17l12 27.4l5 16.2l11 29.1l1.5 6l5 11.4l3 9.3l2 4l1 3.8l3 5.8l7 17.2l3.5 5.4l0.5-0.1l2.5 6.3l1 0.8l0.5 1.8l0.5 0l1.5 3.7l0.5-0.6l0.5 1.4l0.5 0.1l2 2.8l2 3.7l1.5 4l0.5 0l0.5 1.1l2 1.3l2.5 5l1.5 1.7l0.5 1.4l1.5 0.9l2 4.3l0.5 0.1l2 3.3l0.5 0.1l0.5-0.8l0.5 0.2l3 4.3l0.5-0.3l1 1.8l1 0.7l3.5 5.8l1.5 0.9l1 1.6l0.5-0.2l1 2.1l0.5-0.3l0.5 1.1l0.5-1.2l0.5 0.2l2 4.6l0.5 0.4l0.5-1l1 0.2l1 1.9l0.5-0.4l0.5 1.6l1.5 1.2l0.5-0.6l1 2.1l0.5-0.1l0.5 1l2.5 1.4l0.5 1.5l0.5 0.2l1.5-0.8l1 3.1l1 1.5l0.5-0.6l1 2.2l0.5-0.4l0.5 1.1l1 0.7l0.5-0.6l0.5 1.1l0.5-0.3l2 2.5l0.5-0.5l1.5 2.9l0.5-0.5l1 1.9l0.5-0.3l0.5 1.3l2.5 2.4l1 1.9l0.5-0.4l2.5 2.6l0.5 1.8l1 0.7l1.5-0.5l1.5 2.2l0.5-0.6l0.5 0.2l1.5 4.8l0.5 0.8l0.5-0.1l0.5 1.8l0.5-1.2l1 0.6l1.5 4l1-1.6l0.5 0.1l2.5 6.4l0.5-0.7l0.5 0.7l0.5-0.1l1 0.8l1.5 2.9l1 0.3l0.5 1.7l0.5-1l0.5 2.2l0.5-0.5l0.5 1l0.5-1.1l1.5 3.7l2-1.2l0.5 2.3l0.5-0.9l1 3.7l0.5-0.4l1 2.4l1 0.6l0.5 1.6l0.5-0.1l0.5 0.8l0.5 2l0.5-0.7l0.5 1.2l0.5-2.2l1 0.1l3.5 7.2l0.5-0.5l0.5 1.3l1.5 0.3l0.5 1.4l1.5 1.8l0.5-0.9l0.5 2.4l0.5-0.6l1.5-0.1l0.5-1.7l0.5 1.7l0.5-0.2l2 3.7l1-1.5l0.5-1.9l0.5 2l0.5 0.7l0.5-0.5l1 6l0.5-0.8l0.5 0.6l1.5-3.3l1 1.4l0.5-0.7l0.5 1.8l0.5-1.5l1 3l0.5 0.3l0.5-1.8l1 0.6l0.5-1.4l2 4l1-2.3l0.5 2l0.5-0.3l1 0.9l1-1.7l0.5 1.4l0.5 0.5l0.5-0.3l1 3.2l0.5-0.8l0.5 1l0.5-1.6l0.5 0l1 1.5l0.5-0.6l0.5 2.5l0.5-1.7l0.5-0.3l1 3l0.5-0.6l2 3l0.5-1.5l1.5-1.2l0.5-0.1l0.5 0.8l0.5-1.2l3.5 5.8l0.5-1.4l0.5 2.4l1-2l0.5 0l1 1.9l0.5 0.5l0.5-0.5l0.5 2.2l1.5-5.1l2 3.2l0.5 3.1l0.5-1l0.5 3.2l0.5-1.4l1.5 2.1l1-1.9l1 1.2l0.5 1.8l0.5 0l1 1.7l1 0.3l0.5 1.5l1-1.5l2.5 5.2l1.5-1.9l0.5 1.5l0.5-1.4l2 4.6l1-2.4l0.5 0.6l0.5 2.4l0.5-2.3l1 1.9l0.5-3l0.5 3.6l0.5 0.4l0.5-0.5l0.5 2.5l0.5 0.3l0.5-2.1l2 4l0.5-1.7l0.5 1l0.5-1.1l0.5 3.3l0.5-0.3l0.5-1.8l0.5 1.7l1 0.4l0.5-0.7l1 1.8l0.5-1.7l0.5 0.5l1-1.7l1.5 2.2l0.5 2.4l1-0.5l0.5 0.4l0.5-1.1l0.5 0.8l1 0.1l0.5 1.7l0.5-1.9l1 3.3l1-2.1l0.5 0.4l0.5-2.2l1 2.9l0.5-0.7l0.5 2.8l0.5-0.4l0.5 2l0.5-0.6l1 1.9l0.5-1.3l0.5 0.4l0.5-3.2l0.5 2.1l0.5-0.3l1 2.5l0.5 0l1-1.9l0.5 0.7l0.5-0.1l0.5 4.4l0.5-1.6l0.5 0.5l1-2.6l1.5 4.8l0.5-1.5l0.5 1.7l0.5-1.9l0.5 0.4l0.5-0.8l0.5 2.1l1 1.6l0.5-0.1l0.5-2.1l0.5-0.1l0.5-1.1l1 1.5l1-1.2l1.5 7.2l1-1l1 3.9l0.5-0.3l1-2.9l1.5 3.2l0.5-0.2l0.5 0.6l1-0.4l1 1.7l0.5-1.2l0.5-0.1l1.5 1.1l0.5-2l0.5 7.6l0.5 1.5l1.5 0.5l1-2.8l0.5 1.9l0.5-2.8l0.5 2.4l0.5-0.8l0.5 0.8l0.5-0.9l0.5 2.1l0.5-1.3l0.5 0.3l1 2.5l0.5-1.3l0.5 3.2l0.5 0.9l0.5-1.2l0.5 2.7l0.5-2.1l0.5 0.2l1 3.1l0.5-0.8l1.5 2.8l2 13.1l0.5-0.3l0.5 2l0.5 0l0.5-2.9l0.5 0.5l0.5 3.9l1 0.6l0.5 1.9l1-3.9l0.5 4.1l0.5-4.5l0.5 0.2l1-5.6l0.5 1.5l0.5-2.4l0.5 0.2l0.5-1.1l0.5 1.7l0.5-3l0.5 3.9l0.5-1.7l1-1l0.5-3.1l1-1.6l0.5 3.9l0.5-2.2l1 6.2l0.5-2.8l1 2.8l1.5-3.1l0.5 2.6l0.5-2.3l0.5 0.2l0.5-2l1 3.4l0.5 0.3l0.5-2.1l1 0l0.5 2.5l1-1.6l1-0.5l0.5-2.1l0.5 2.1l0.5 0.6l0.5-0.3l1 2.2l0.5-2.7l0.5 3.7l0.5-0.9l0.5-5.1l0.5-0.1l0.5-1l0.5 2.6l0.5-1.4l0.5 3l0.5-2.3l1 0.5l0.5-2.2l0.5 2.9l0.5 0.4l0.5-0.8l1.5 3.6l0.5-2l0.5 3.4l0.5-5.7l0.5 3.4l1 0.8l0.5-2.2l0.5 3.2l0.5-2.4l1 3l0.5-0.8l0.5-4.5l0.5 2.7l1.5 3.7l0.5-0.6l0.5 1.5l0.5-4.7l0.5 2.6l0.5-1.7l1 2l1.5 7l0.5-1.7l0.5 0.3l0.5-3.9l0.5 6.3l0.5-5.1l0.5-0.8l0.5 0.9l0.5-0.3l0.5-3.3l1 8.7l0.5-1.8l0.5 3.8l1-6.6l1 1.7l1 11.1l0.5 1.1l1-7.8l1-3.8l0.5-0.2l0.5-2.9l1.5 8.4l0.5-6.4l0.5 4.6l0.5-0.6l0.5 1l0.5-3.3l0.5 7l1-4.2l0.5 0.8l0.5 7.1l0.5 3.2l0.5-0.8l0.5 2.3l0.5 5.3l1.5-4.2l0.5 0l1-8.1l0.5 14.1l0.5-0.4l0.5-7.9l0.5 15.6l1-9.6l0.5 9.4l0.5-14.9l0.5 9.8l0.5-12.7l0.5 12.8l1-11.2l0.5 9.9l0.5-6.6l0.5 25.3l0.5-22.1l0.5 10.6l0.5 0.2l0.5-5.2l0.5 3.6l0.5-0.2l0.5 2.8l0.5-8.1l0.5 20.2l0.5-22l0.5 2.4l0.5-4.1l0.5 1l1 30.5l0.5-21.3l0.5 26.9l0.5-23.7l0.5 19.5l0.5-26.1l0.5 20.8l1-22.1l0.5 9.3l0.5 0l0.5 15.7l0.5-19.4l0.5 17.6l0.5-25.1l0.5-2.6l0.5 24.9l0.5-17.2l2.5 22.1l1-20.5l1 16l0.5-22.5l0.5-2.7l0.5 33.2l0.5-16.6l0.5 6.6l0.5-22.1l0.5 22.9l2-20.6l0.5 5.7l0.5-3.6l0.5 10.5l0.5-6.4l0.5 7.3l0.5-8.6l0.5 6.9l0.5-4.7l0.5 8.7l1-13.2l0.5 17l0.5-5.6l0.5 20.2l0.5-16.5l1 18.2l0.5-26.2l0.5 2.5l0.5 18.1l0.5-18.3l0.5 14l0.5-17.1l0.5-0.6l0.5 27.4l0.5-4.3l0.5-27.2l0.5 23l0.5-1.3l0.5 6.3l0.5-24.8l0.5 10.1l0.5-8.1l0.5 24.8l1-21.2l0.5 26.8l0.5-16.8l1 17.9l0.5-32.6l0.5 31.1l0.5-32.5l1 13.2l0.5-8.7l1 33.3l1-30.1l0.5 4.8l0.5-6l0.5 1.3l0.5-3.3l0.5 8l0.5-9.7l0.5 25.2l0.5-22.6l0.5 24.1l0.5-16.5l0.5-1.9l1 12.2l0.5-28.4l1 31.2l0.5-16.5l0.5 0l0.5 10.5l0.5-15.6l0.5 27l1-13.4l0.5-21.9l0.5 17.2l0.5-16.1l0.5 4l0.5 17.2l0.5-7l1 15.8l1-13.1l0.5 4.9l0.5-23l1.5 20.6l0.5-15.4l0.5 24.2l0.5-24l0.5 29.8l0.5-20.5l0.5 21.1l0.5-16.1l0.5 2.4l0.5-5.6l1 4.4l0.5-12.8l1 11.1l0.5-12.4l0.5 5.6l0.5 88.2l0.5 0l0.5-86.2l0.5 86.2l0.5-88l0.5 0.5l1.5-5.1l0.5 4.2l0.5 88.4l0.5-88l0.5 88l1 0l0.5-90.5l0.5 4l0.5 86.5l0.5-91.8l0.5 91.8l0.5-88.5l0.5 1.9l0.5 39.2l0.5-45.9l0.5 43.5l0.5-1.5l0.5 1.8l0.5-38.7l0.5 1.1l0.5-1.7l0.5 49.7l0.5-3.6l0.5-42.4l0.5 38.9l0.5 8.6l1-6l0.5 2.1l0.5-3.3l0.5 0.2l0.5-47.7l0.5 5.5l0.5 50.6l0.5-49.8l0.5 40.8l0.5 6l1 1.7l0.5-48.5l0.5 2l0.5 84l1 0l0.5-89.3l0.5 6l0.5 83.3l0.5 0l0.5-85.1l0.5-1.8l0.5 4.1l0.5 82.8l1.5 0l0.5-85.7l0.5 1.7l0.5-0.6l0.5 84.6l0.5 0l0.5-85.4l0.5 85.4l0.5-85l0.5 85l0.5-87.2l0.5 87.2l2 0l0.5-89.5l0.5 2.9l1-2.7l0.5 89.3l0.5-86.2l0.5 3.4l0.5 82.8l0.5-79.1l0.5 79.1l0.5-80.8l0.5 80.8l3 0l0.5-86.1l0.5 42.2l0.5-38l0.5 3l0.5 39.6l0.5 0.6l0.5-2.1l0.5-42.5l0.5 37.7l0.5-36.2l0.5 34l0.5 8.2l0.5-42.1l1 4.2l1-8.5l0.5 43l0.5-5.9l0.5-32.1l0.5 4.1l0.5 31.5l0.5-2.9l0.5 2.1l0.5-0.5l0.5-35.3l0.5 2.6l0.5 79.4l0.5 0l0.5-78.3l0.5-4.4l0.5-0.8l0.5 83.5l0.5 0l0.5-78.8l0.5-1l0.5 79.8l0.5 0l0.5-82.3l0.5 0.1l0.5 82.2l2 0l0.5-83.3l0.5 83.3l0.5 0l0.5-82.6l0.5 5.1l0.5 77.5l0.5-82.8l0.5 3.4l0.5-1.2l0.5 3.5l0.5-1.9l0.5 79l0.5-80.4l0.5-1.4l0.5 2.2l0.5-4.5l0.5 84.1l0.5-86.5l0.5 4.8l0.5 0.3l0.5 81.4l0.5 0l0.5-79.4l0.5 79.4l1 0l0.5-82.8l0.5 6l0.5-5.5l0.5 3l0.5-3.5l0.5 3.8l0.5-4l0.5 83l0.5 0l0.5-84.2l0.5 84.2l2.5 0l0.5-83.4l0.5 2l0.5 81.4l1.5 0l0.5-83.8"/>
</g>
<rect x="334" y="88" width="208" height="619" fill="#000"/>
<rect x="321.5" y="75.5" width="207" height="618" fill="#fff" stroke="#000" stroke-width="1"/>
<rect x="339" y="135" width="97" height="5" fill="#000000"/><text class="lg" transform="translate(0,151.8) scale(1,1.03)"><tspan x="449.2" y="0" font-size="63.5">λ</tspan><tspan x="484" y="0" font-size="72.5">1</tspan></text>
<rect x="339" y="223" width="97" height="5" fill="#ff0000"/><text class="lg" transform="translate(0,239.5) scale(1,1.03)"><tspan x="449.2" y="0" font-size="63.5">λ</tspan><tspan x="484" y="0" font-size="72.5">2</tspan></text>
<rect x="339" y="310" width="97" height="5" fill="#0000ff"/><text class="lg" transform="translate(0,327.2) scale(1,1.03)"><tspan x="449.2" y="0" font-size="63.5">λ</tspan><tspan x="484" y="0" font-size="72.5">3</tspan></text>
<rect x="339" y="398" width="97" height="5" fill="#008080"/><text class="lg" transform="translate(0,414.9) scale(1,1.03)"><tspan x="449.2" y="0" font-size="63.5">λ</tspan><tspan x="484" y="0" font-size="72.5">4</tspan></text>
<rect x="339" y="486" width="97" height="5" fill="#ff00ff"/><text class="lg" transform="translate(0,502.6) scale(1,1.03)"><tspan x="449.2" y="0" font-size="63.5">λ</tspan><tspan x="484" y="0" font-size="72.5">5</tspan></text>
<rect x="339" y="573" width="97" height="5" fill="#808000"/><text class="lg" transform="translate(0,590.3) scale(1,1.03)"><tspan x="449.2" y="0" font-size="63.5">λ</tspan><tspan x="484" y="0" font-size="72.5">6</tspan></text>
<rect x="339" y="661" width="97" height="5" fill="#000080"/><text class="lg" transform="translate(0,678) scale(1,1.03)"><tspan x="449.2" y="0" font-size="63.5">λ</tspan><tspan x="484" y="0" font-size="72.5">7</tspan></text>
<g class="an" filter="url(#sh)"><path stroke-width="5" stroke-linejoin="round" d="M673 125.5H760.5M735 101.2L760.8 125.5L735 149.8"/><path stroke-width="5" stroke-linejoin="round" d="M964 125.5H876M901.5 101.2L875.7 125.5L901.5 149.8"/><path stroke-width="4.6" stroke-linejoin="round" d="M1441.7 183V465M1417 440.5L1441.7 466L1466.4 440.5"/><path stroke-width="4.6" stroke-linejoin="round" d="M1441.7 896V575M1417 600L1441.7 574.5L1466.4 600"/></g>
<g class="an"><path stroke-width="5" stroke-linejoin="round" d="M673 125.5H760.5M735 101.2L760.8 125.5L735 149.8"/><path stroke-width="5" stroke-linejoin="round" d="M964 125.5H876M901.5 101.2L875.7 125.5L901.5 149.8"/><path stroke-width="4.6" stroke-linejoin="round" d="M1441.7 183V465M1417 440.5L1441.7 466L1466.4 440.5"/><path stroke-width="4.6" stroke-linejoin="round" d="M1441.7 896V575M1417 600L1441.7 574.5L1466.4 600"/>
<path stroke-width="5.8" d="M767.1 108V171.5"/><path stroke-width="5.8" d="M869.2 108V186"/><path stroke-width="5.7" stroke-linecap="round" d="M869 183.1H1466.5"/><path stroke-width="5" stroke-linecap="round" d="M1405.5 896H1485.5"/></g>
<text class="rt" transform="translate(719.6,87.2) scale(1,1.04)">0.435 nm</text>
<text class="rt" transform="translate(1293,553.6) scale(1,1.02)">79.5 dB</text>
</svg>
</body></html>
